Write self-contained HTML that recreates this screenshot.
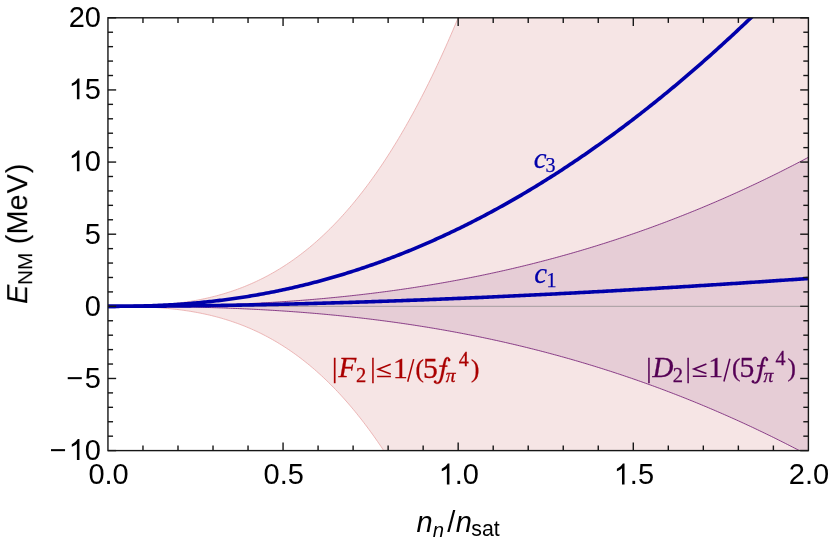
<!DOCTYPE html>
<html><head><meta charset="utf-8"><title>E_NM</title>
<style>html,body{margin:0;padding:0;background:#fff;}body{width:830px;height:544px;overflow:hidden;font-family:"Liberation Sans",sans-serif;}svg{display:block;}#w{will-change:opacity;width:830px;height:544px;}</style></head>
<body>
<div id="w">
<svg width="830" height="544" viewBox="0 0 830 544">
<defs><clipPath id="cp"><rect x="107.95" y="17.80" width="700.45" height="432.80"/></clipPath></defs>
<rect x="0" y="0" width="830" height="544" fill="#ffffff"/>
<g clip-path="url(#cp)">
<path d="M107.95,306.33 L109.70,306.33 L111.45,306.33 L113.20,306.33 L114.95,306.32 L116.71,306.32 L118.46,306.31 L120.21,306.29 L121.96,306.28 L123.71,306.26 L125.46,306.24 L127.21,306.21 L128.96,306.19 L130.71,306.15 L132.47,306.12 L134.22,306.08 L135.97,306.03 L137.72,305.98 L139.47,305.93 L141.22,305.87 L142.97,305.80 L144.72,305.73 L146.47,305.66 L148.23,305.57 L149.98,305.49 L151.73,305.39 L153.48,305.29 L155.23,305.18 L156.98,305.07 L158.73,304.95 L160.48,304.82 L162.23,304.69 L163.99,304.54 L165.74,304.39 L167.49,304.23 L169.24,304.07 L170.99,303.89 L172.74,303.71 L174.49,303.52 L176.24,303.31 L178.00,303.10 L179.75,302.88 L181.50,302.65 L183.25,302.42 L185.00,302.17 L186.75,301.91 L188.50,301.64 L190.25,301.36 L192.00,301.07 L193.76,300.77 L195.51,300.46 L197.26,300.14 L199.01,299.80 L200.76,299.46 L202.51,299.10 L204.26,298.73 L206.01,298.35 L207.76,297.96 L209.52,297.55 L211.27,297.13 L213.02,296.70 L214.77,296.26 L216.52,295.80 L218.27,295.33 L220.02,294.84 L221.77,294.34 L223.52,293.83 L225.28,293.31 L227.03,292.76 L228.78,292.21 L230.53,291.64 L232.28,291.05 L234.03,290.45 L235.78,289.84 L237.53,289.21 L239.28,288.56 L241.04,287.90 L242.79,287.22 L244.54,286.52 L246.29,285.81 L248.04,285.08 L249.79,284.34 L251.54,283.57 L253.29,282.80 L255.04,282.00 L256.80,281.18 L258.55,280.35 L260.30,279.50 L262.05,278.63 L263.80,277.75 L265.55,276.84 L267.30,275.92 L269.05,274.97 L270.80,274.01 L272.56,273.03 L274.31,272.03 L276.06,271.00 L277.81,269.96 L279.56,268.90 L281.31,267.82 L283.06,266.72 L284.81,265.59 L286.56,264.45 L288.32,263.28 L290.07,262.10 L291.82,260.89 L293.57,259.66 L295.32,258.41 L297.07,257.13 L298.82,255.84 L300.57,254.52 L302.32,253.17 L304.08,251.81 L305.83,250.42 L307.58,249.01 L309.33,247.58 L311.08,246.12 L312.83,244.63 L314.58,243.13 L316.33,241.60 L318.08,240.04 L319.84,238.46 L321.59,236.86 L323.34,235.22 L325.09,233.57 L326.84,231.89 L328.59,230.18 L330.34,228.45 L332.09,226.69 L333.85,224.90 L335.60,223.09 L337.35,221.25 L339.10,219.38 L340.85,217.49 L342.60,215.57 L344.35,213.62 L346.10,211.65 L347.85,209.64 L349.61,207.61 L351.36,205.55 L353.11,203.46 L354.86,201.34 L356.61,199.19 L358.36,197.02 L360.11,194.81 L361.86,192.58 L363.61,190.31 L365.37,188.02 L367.12,185.69 L368.87,183.33 L370.62,180.95 L372.37,178.53 L374.12,176.08 L375.87,173.60 L377.62,171.09 L379.37,168.54 L381.13,165.97 L382.88,163.36 L384.63,160.72 L386.38,158.05 L388.13,155.34 L389.88,152.60 L391.63,149.83 L393.38,147.03 L395.13,144.19 L396.89,141.32 L398.64,138.41 L400.39,135.47 L402.14,132.49 L403.89,129.48 L405.64,126.44 L407.39,123.36 L409.14,120.24 L410.89,117.09 L412.65,113.91 L414.40,110.68 L416.15,107.42 L417.90,104.13 L419.65,100.80 L421.40,97.43 L423.15,94.02 L424.90,90.58 L426.65,87.10 L428.41,83.58 L430.16,80.03 L431.91,76.43 L433.66,72.80 L435.41,69.13 L437.16,65.42 L438.91,61.67 L440.66,57.88 L442.41,54.06 L444.17,50.19 L445.92,46.28 L447.67,42.33 L449.42,38.35 L451.17,34.32 L452.92,30.25 L454.67,26.14 L456.42,21.99 L458.17,17.80 L459.93,13.57 L461.68,9.29 L463.43,4.97 L465.18,0.61 L466.93,-3.79 L468.68,-8.23 L470.43,-12.72 L472.18,-17.25 L473.94,-21.82 L475.69,-26.44 L477.44,-31.10 L479.19,-35.81 L480.94,-40.56 L482.69,-45.35 L484.44,-50.19 L486.19,-55.08 L487.94,-60.00 L489.70,-64.98 L491.45,-70.00 L493.20,-75.06 L494.95,-80.18 L496.70,-85.33 L498.45,-90.54 L500.20,-95.79 L501.95,-101.09 L503.70,-106.43 L505.46,-111.83 L507.21,-117.27 L508.96,-122.75 L510.71,-128.29 L512.46,-133.87 L514.21,-139.51 L515.96,-145.19 L517.71,-150.92 L519.46,-156.70 L521.22,-162.53 L522.97,-168.41 L524.72,-174.33 L526.47,-180.31 L528.22,-186.34 L529.97,-192.42 L531.72,-198.55 L533.47,-204.73 L535.22,-210.96 L536.98,-217.25 L538.73,-223.58 L540.48,-229.97 L542.23,-236.41 L543.98,-242.90 L545.73,-249.45 L547.48,-256.04 L549.23,-262.69 L550.98,-269.40 L552.74,-276.16 L554.49,-282.97 L556.24,-289.83 L557.99,-296.75 L559.74,-303.72 L561.49,-310.75 L563.24,-317.84 L564.99,-324.97 L566.74,-332.17 L568.50,-339.42 L570.25,-346.72 L572.00,-354.08 L573.75,-361.50 L575.50,-368.97 L577.25,-376.51 L579.00,-384.09 L580.75,-391.74 L582.50,-399.44 L584.26,-407.20 L586.01,-415.02 L587.76,-422.89 L589.51,-430.83 L591.26,-438.82 L593.01,-446.87 L594.76,-454.99 L596.51,-463.16 L598.26,-471.39 L600.02,-479.68 L601.77,-488.03 L603.52,-496.44 L605.27,-504.91 L607.02,-513.44 L608.77,-522.03 L610.52,-530.69 L612.27,-539.40 L614.03,-548.18 L615.78,-557.02 L617.53,-559.27 L619.28,-559.27 L621.03,-559.27 L622.78,-559.27 L624.53,-559.27 L626.28,-559.27 L628.03,-559.27 L629.79,-559.27 L631.54,-559.27 L633.29,-559.27 L635.04,-559.27 L636.79,-559.27 L638.54,-559.27 L640.29,-559.27 L642.04,-559.27 L643.79,-559.27 L645.55,-559.27 L647.30,-559.27 L649.05,-559.27 L650.80,-559.27 L652.55,-559.27 L654.30,-559.27 L656.05,-559.27 L657.80,-559.27 L659.55,-559.27 L661.31,-559.27 L663.06,-559.27 L664.81,-559.27 L666.56,-559.27 L668.31,-559.27 L670.06,-559.27 L671.81,-559.27 L673.56,-559.27 L675.31,-559.27 L677.07,-559.27 L678.82,-559.27 L680.57,-559.27 L682.32,-559.27 L684.07,-559.27 L685.82,-559.27 L687.57,-559.27 L689.32,-559.27 L691.07,-559.27 L692.83,-559.27 L694.58,-559.27 L696.33,-559.27 L698.08,-559.27 L699.83,-559.27 L701.58,-559.27 L703.33,-559.27 L705.08,-559.27 L706.83,-559.27 L708.59,-559.27 L710.34,-559.27 L712.09,-559.27 L713.84,-559.27 L715.59,-559.27 L717.34,-559.27 L719.09,-559.27 L720.84,-559.27 L722.59,-559.27 L724.35,-559.27 L726.10,-559.27 L727.85,-559.27 L729.60,-559.27 L731.35,-559.27 L733.10,-559.27 L734.85,-559.27 L736.60,-559.27 L738.36,-559.27 L740.11,-559.27 L741.86,-559.27 L743.61,-559.27 L745.36,-559.27 L747.11,-559.27 L748.86,-559.27 L750.61,-559.27 L752.36,-559.27 L754.12,-559.27 L755.87,-559.27 L757.62,-559.27 L759.37,-559.27 L761.12,-559.27 L762.87,-559.27 L764.62,-559.27 L766.37,-559.27 L768.12,-559.27 L769.88,-559.27 L771.63,-559.27 L773.38,-559.27 L775.13,-559.27 L776.88,-559.27 L778.63,-559.27 L780.38,-559.27 L782.13,-559.27 L783.88,-559.27 L785.64,-559.27 L787.39,-559.27 L789.14,-559.27 L790.89,-559.27 L792.64,-559.27 L794.39,-559.27 L796.14,-559.27 L797.89,-559.27 L799.64,-559.27 L801.40,-559.27 L803.15,-559.27 L804.90,-559.27 L806.65,-559.27 L808.40,-559.27 L808.40,1171.93 L806.65,1171.93 L804.90,1171.93 L803.15,1171.93 L801.40,1171.93 L799.64,1171.93 L797.89,1171.93 L796.14,1171.93 L794.39,1171.93 L792.64,1171.93 L790.89,1171.93 L789.14,1171.93 L787.39,1171.93 L785.64,1171.93 L783.88,1171.93 L782.13,1171.93 L780.38,1171.93 L778.63,1171.93 L776.88,1171.93 L775.13,1171.93 L773.38,1171.93 L771.63,1171.93 L769.88,1171.93 L768.12,1171.93 L766.37,1171.93 L764.62,1171.93 L762.87,1171.93 L761.12,1171.93 L759.37,1171.93 L757.62,1171.93 L755.87,1171.93 L754.12,1171.93 L752.36,1171.93 L750.61,1171.93 L748.86,1171.93 L747.11,1171.93 L745.36,1171.93 L743.61,1171.93 L741.86,1171.93 L740.11,1171.93 L738.36,1171.93 L736.60,1171.93 L734.85,1171.93 L733.10,1171.93 L731.35,1171.93 L729.60,1171.93 L727.85,1171.93 L726.10,1171.93 L724.35,1171.93 L722.59,1171.93 L720.84,1171.93 L719.09,1171.93 L717.34,1171.93 L715.59,1171.93 L713.84,1171.93 L712.09,1171.93 L710.34,1171.93 L708.59,1171.93 L706.83,1171.93 L705.08,1171.93 L703.33,1171.93 L701.58,1171.93 L699.83,1171.93 L698.08,1171.93 L696.33,1171.93 L694.58,1171.93 L692.83,1171.93 L691.07,1171.93 L689.32,1171.93 L687.57,1171.93 L685.82,1171.93 L684.07,1171.93 L682.32,1171.93 L680.57,1171.93 L678.82,1171.93 L677.07,1171.93 L675.31,1171.93 L673.56,1171.93 L671.81,1171.93 L670.06,1171.93 L668.31,1171.93 L666.56,1171.93 L664.81,1171.93 L663.06,1171.93 L661.31,1171.93 L659.55,1171.93 L657.80,1171.93 L656.05,1171.93 L654.30,1171.93 L652.55,1171.93 L650.80,1171.93 L649.05,1171.93 L647.30,1171.93 L645.55,1171.93 L643.79,1171.93 L642.04,1171.93 L640.29,1171.93 L638.54,1171.93 L636.79,1171.93 L635.04,1171.93 L633.29,1171.93 L631.54,1171.93 L629.79,1171.93 L628.03,1171.93 L626.28,1171.93 L624.53,1171.93 L622.78,1171.93 L621.03,1171.93 L619.28,1171.93 L617.53,1171.93 L615.78,1169.68 L614.03,1160.85 L612.27,1152.07 L610.52,1143.35 L608.77,1134.70 L607.02,1126.11 L605.27,1117.57 L603.52,1109.10 L601.77,1100.69 L600.02,1092.34 L598.26,1084.05 L596.51,1075.82 L594.76,1067.65 L593.01,1059.54 L591.26,1051.49 L589.51,1043.50 L587.76,1035.56 L586.01,1027.69 L584.26,1019.87 L582.50,1012.11 L580.75,1004.40 L579.00,996.76 L577.25,989.17 L575.50,981.64 L573.75,974.17 L572.00,966.75 L570.25,959.39 L568.50,952.08 L566.74,944.83 L564.99,937.64 L563.24,930.50 L561.49,923.42 L559.74,916.39 L557.99,909.42 L556.24,902.50 L554.49,895.63 L552.74,888.82 L550.98,882.07 L549.23,875.36 L547.48,868.71 L545.73,862.11 L543.98,855.57 L542.23,849.08 L540.48,842.64 L538.73,836.25 L536.98,829.91 L535.22,823.63 L533.47,817.40 L531.72,811.22 L529.97,805.09 L528.22,799.01 L526.47,792.98 L524.72,787.00 L522.97,781.07 L521.22,775.19 L519.46,769.36 L517.71,763.58 L515.96,757.85 L514.21,752.17 L512.46,746.54 L510.71,740.96 L508.96,735.42 L507.21,729.93 L505.46,724.49 L503.70,719.10 L501.95,713.75 L500.20,708.46 L498.45,703.21 L496.70,698.00 L494.95,692.84 L493.20,687.73 L491.45,682.67 L489.70,677.65 L487.94,672.67 L486.19,667.74 L484.44,662.86 L482.69,658.02 L480.94,653.23 L479.19,648.48 L477.44,643.77 L475.69,639.11 L473.94,634.49 L472.18,629.92 L470.43,625.39 L468.68,620.90 L466.93,616.45 L465.18,612.05 L463.43,607.69 L461.68,603.38 L459.93,599.10 L458.17,594.87 L456.42,590.67 L454.67,586.52 L452.92,582.42 L451.17,578.35 L449.42,574.32 L447.67,570.33 L445.92,566.39 L444.17,562.48 L442.41,558.61 L440.66,554.78 L438.91,551.00 L437.16,547.25 L435.41,543.54 L433.66,539.87 L431.91,536.23 L430.16,532.64 L428.41,529.08 L426.65,525.57 L424.90,522.09 L423.15,518.64 L421.40,515.24 L419.65,511.87 L417.90,508.54 L416.15,505.24 L414.40,501.98 L412.65,498.76 L410.89,495.57 L409.14,492.42 L407.39,489.31 L405.64,486.23 L403.89,483.18 L402.14,480.17 L400.39,477.20 L398.64,474.26 L396.89,471.35 L395.13,468.48 L393.38,465.64 L391.63,462.83 L389.88,460.06 L388.13,457.32 L386.38,454.62 L384.63,451.95 L382.88,449.31 L381.13,446.70 L379.37,444.12 L377.62,441.58 L375.87,439.07 L374.12,436.59 L372.37,434.14 L370.62,431.72 L368.87,429.33 L367.12,426.98 L365.37,424.65 L363.61,422.36 L361.86,420.09 L360.11,417.85 L358.36,415.65 L356.61,413.47 L354.86,411.32 L353.11,409.21 L351.36,407.12 L349.61,405.06 L347.85,403.02 L346.10,401.02 L344.35,399.04 L342.60,397.10 L340.85,395.18 L339.10,393.28 L337.35,391.42 L335.60,389.58 L333.85,387.76 L332.09,385.98 L330.34,384.22 L328.59,382.49 L326.84,380.78 L325.09,379.10 L323.34,377.44 L321.59,375.81 L319.84,374.21 L318.08,372.63 L316.33,371.07 L314.58,369.54 L312.83,368.03 L311.08,366.55 L309.33,365.09 L307.58,363.66 L305.83,362.25 L304.08,360.86 L302.32,359.49 L300.57,358.15 L298.82,356.83 L297.07,355.53 L295.32,354.26 L293.57,353.01 L291.82,351.78 L290.07,350.57 L288.32,349.38 L286.56,348.22 L284.81,347.07 L283.06,345.95 L281.31,344.85 L279.56,343.77 L277.81,342.70 L276.06,341.66 L274.31,340.64 L272.56,339.64 L270.80,338.66 L269.05,337.69 L267.30,336.75 L265.55,335.83 L263.80,334.92 L262.05,334.03 L260.30,333.17 L258.55,332.32 L256.80,331.48 L255.04,330.67 L253.29,329.87 L251.54,329.09 L249.79,328.33 L248.04,327.58 L246.29,326.86 L244.54,326.14 L242.79,325.45 L241.04,324.77 L239.28,324.11 L237.53,323.46 L235.78,322.83 L234.03,322.21 L232.28,321.61 L230.53,321.03 L228.78,320.46 L227.03,319.90 L225.28,319.36 L223.52,318.83 L221.77,318.32 L220.02,317.82 L218.27,317.34 L216.52,316.87 L214.77,316.41 L213.02,315.97 L211.27,315.53 L209.52,315.12 L207.76,314.71 L206.01,314.32 L204.26,313.94 L202.51,313.57 L200.76,313.21 L199.01,312.86 L197.26,312.53 L195.51,312.21 L193.76,311.90 L192.00,311.60 L190.25,311.31 L188.50,311.03 L186.75,310.76 L185.00,310.50 L183.25,310.25 L181.50,310.01 L179.75,309.78 L178.00,309.56 L176.24,309.35 L174.49,309.15 L172.74,308.96 L170.99,308.78 L169.24,308.60 L167.49,308.43 L165.74,308.27 L163.99,308.12 L162.23,307.98 L160.48,307.84 L158.73,307.72 L156.98,307.60 L155.23,307.48 L153.48,307.37 L151.73,307.27 L149.98,307.18 L148.23,307.09 L146.47,307.01 L144.72,306.93 L142.97,306.86 L141.22,306.80 L139.47,306.74 L137.72,306.68 L135.97,306.63 L134.22,306.59 L132.47,306.55 L130.71,306.51 L128.96,306.48 L127.21,306.45 L125.46,306.43 L123.71,306.41 L121.96,306.39 L120.21,306.37 L118.46,306.36 L116.71,306.35 L114.95,306.34 L113.20,306.34 L111.45,306.34 L109.70,306.33 L107.95,306.33 Z" fill="#aa0000" fill-opacity="0.1" stroke="none"/>
<path d="M107.95,306.33 L109.70,306.33 L111.45,306.33 L113.20,306.33 L114.95,306.32 L116.71,306.32 L118.46,306.31 L120.21,306.29 L121.96,306.28 L123.71,306.26 L125.46,306.24 L127.21,306.21 L128.96,306.19 L130.71,306.15 L132.47,306.12 L134.22,306.08 L135.97,306.03 L137.72,305.98 L139.47,305.93 L141.22,305.87 L142.97,305.80 L144.72,305.73 L146.47,305.66 L148.23,305.57 L149.98,305.49 L151.73,305.39 L153.48,305.29 L155.23,305.18 L156.98,305.07 L158.73,304.95 L160.48,304.82 L162.23,304.69 L163.99,304.54 L165.74,304.39 L167.49,304.23 L169.24,304.07 L170.99,303.89 L172.74,303.71 L174.49,303.52 L176.24,303.31 L178.00,303.10 L179.75,302.88 L181.50,302.65 L183.25,302.42 L185.00,302.17 L186.75,301.91 L188.50,301.64 L190.25,301.36 L192.00,301.07 L193.76,300.77 L195.51,300.46 L197.26,300.14 L199.01,299.80 L200.76,299.46 L202.51,299.10 L204.26,298.73 L206.01,298.35 L207.76,297.96 L209.52,297.55 L211.27,297.13 L213.02,296.70 L214.77,296.26 L216.52,295.80 L218.27,295.33 L220.02,294.84 L221.77,294.34 L223.52,293.83 L225.28,293.31 L227.03,292.76 L228.78,292.21 L230.53,291.64 L232.28,291.05 L234.03,290.45 L235.78,289.84 L237.53,289.21 L239.28,288.56 L241.04,287.90 L242.79,287.22 L244.54,286.52 L246.29,285.81 L248.04,285.08 L249.79,284.34 L251.54,283.57 L253.29,282.80 L255.04,282.00 L256.80,281.18 L258.55,280.35 L260.30,279.50 L262.05,278.63 L263.80,277.75 L265.55,276.84 L267.30,275.92 L269.05,274.97 L270.80,274.01 L272.56,273.03 L274.31,272.03 L276.06,271.00 L277.81,269.96 L279.56,268.90 L281.31,267.82 L283.06,266.72 L284.81,265.59 L286.56,264.45 L288.32,263.28 L290.07,262.10 L291.82,260.89 L293.57,259.66 L295.32,258.41 L297.07,257.13 L298.82,255.84 L300.57,254.52 L302.32,253.17 L304.08,251.81 L305.83,250.42 L307.58,249.01 L309.33,247.58 L311.08,246.12 L312.83,244.63 L314.58,243.13 L316.33,241.60 L318.08,240.04 L319.84,238.46 L321.59,236.86 L323.34,235.22 L325.09,233.57 L326.84,231.89 L328.59,230.18 L330.34,228.45 L332.09,226.69 L333.85,224.90 L335.60,223.09 L337.35,221.25 L339.10,219.38 L340.85,217.49 L342.60,215.57 L344.35,213.62 L346.10,211.65 L347.85,209.64 L349.61,207.61 L351.36,205.55 L353.11,203.46 L354.86,201.34 L356.61,199.19 L358.36,197.02 L360.11,194.81 L361.86,192.58 L363.61,190.31 L365.37,188.02 L367.12,185.69 L368.87,183.33 L370.62,180.95 L372.37,178.53 L374.12,176.08 L375.87,173.60 L377.62,171.09 L379.37,168.54 L381.13,165.97 L382.88,163.36 L384.63,160.72 L386.38,158.05 L388.13,155.34 L389.88,152.60 L391.63,149.83 L393.38,147.03 L395.13,144.19 L396.89,141.32 L398.64,138.41 L400.39,135.47 L402.14,132.49 L403.89,129.48 L405.64,126.44 L407.39,123.36 L409.14,120.24 L410.89,117.09 L412.65,113.91 L414.40,110.68 L416.15,107.42 L417.90,104.13 L419.65,100.80 L421.40,97.43 L423.15,94.02 L424.90,90.58 L426.65,87.10 L428.41,83.58 L430.16,80.03 L431.91,76.43 L433.66,72.80 L435.41,69.13 L437.16,65.42 L438.91,61.67 L440.66,57.88 L442.41,54.06 L444.17,50.19 L445.92,46.28 L447.67,42.33 L449.42,38.35 L451.17,34.32 L452.92,30.25 L454.67,26.14 L456.42,21.99 L458.17,17.80 L459.93,13.57 L461.68,9.29 L463.43,4.97 L465.18,0.61 L466.93,-3.79 L468.68,-8.23 L470.43,-12.72 L472.18,-17.25 L473.94,-21.82 L475.69,-26.44 L477.44,-31.10 L479.19,-35.81 L480.94,-40.56 L482.69,-45.35 L484.44,-50.19 L486.19,-55.08 L487.94,-60.00 L489.70,-64.98 L491.45,-70.00 L493.20,-75.06 L494.95,-80.18 L496.70,-85.33 L498.45,-90.54 L500.20,-95.79 L501.95,-101.09 L503.70,-106.43 L505.46,-111.83 L507.21,-117.27 L508.96,-122.75 L510.71,-128.29 L512.46,-133.87 L514.21,-139.51 L515.96,-145.19 L517.71,-150.92 L519.46,-156.70 L521.22,-162.53 L522.97,-168.41 L524.72,-174.33 L526.47,-180.31 L528.22,-186.34 L529.97,-192.42 L531.72,-198.55 L533.47,-204.73 L535.22,-210.96 L536.98,-217.25 L538.73,-223.58 L540.48,-229.97 L542.23,-236.41 L543.98,-242.90 L545.73,-249.45 L547.48,-256.04 L549.23,-262.69 L550.98,-269.40 L552.74,-276.16 L554.49,-282.97 L556.24,-289.83 L557.99,-296.75 L559.74,-303.72 L561.49,-310.75 L563.24,-317.84 L564.99,-324.97 L566.74,-332.17 L568.50,-339.42 L570.25,-346.72 L572.00,-354.08 L573.75,-361.50 L575.50,-368.97 L577.25,-376.51 L579.00,-384.09 L580.75,-391.74 L582.50,-399.44 L584.26,-407.20 L586.01,-415.02 L587.76,-422.89 L589.51,-430.83 L591.26,-438.82 L593.01,-446.87 L594.76,-454.99 L596.51,-463.16 L598.26,-471.39 L600.02,-479.68 L601.77,-488.03 L603.52,-496.44 L605.27,-504.91 L607.02,-513.44 L608.77,-522.03 L610.52,-530.69 L612.27,-539.40 L614.03,-548.18 L615.78,-557.02 L617.53,-559.27 L619.28,-559.27 L621.03,-559.27 L622.78,-559.27 L624.53,-559.27 L626.28,-559.27 L628.03,-559.27 L629.79,-559.27 L631.54,-559.27 L633.29,-559.27 L635.04,-559.27 L636.79,-559.27 L638.54,-559.27 L640.29,-559.27 L642.04,-559.27 L643.79,-559.27 L645.55,-559.27 L647.30,-559.27 L649.05,-559.27 L650.80,-559.27 L652.55,-559.27 L654.30,-559.27 L656.05,-559.27 L657.80,-559.27 L659.55,-559.27 L661.31,-559.27 L663.06,-559.27 L664.81,-559.27 L666.56,-559.27 L668.31,-559.27 L670.06,-559.27 L671.81,-559.27 L673.56,-559.27 L675.31,-559.27 L677.07,-559.27 L678.82,-559.27 L680.57,-559.27 L682.32,-559.27 L684.07,-559.27 L685.82,-559.27 L687.57,-559.27 L689.32,-559.27 L691.07,-559.27 L692.83,-559.27 L694.58,-559.27 L696.33,-559.27 L698.08,-559.27 L699.83,-559.27 L701.58,-559.27 L703.33,-559.27 L705.08,-559.27 L706.83,-559.27 L708.59,-559.27 L710.34,-559.27 L712.09,-559.27 L713.84,-559.27 L715.59,-559.27 L717.34,-559.27 L719.09,-559.27 L720.84,-559.27 L722.59,-559.27 L724.35,-559.27 L726.10,-559.27 L727.85,-559.27 L729.60,-559.27 L731.35,-559.27 L733.10,-559.27 L734.85,-559.27 L736.60,-559.27 L738.36,-559.27 L740.11,-559.27 L741.86,-559.27 L743.61,-559.27 L745.36,-559.27 L747.11,-559.27 L748.86,-559.27 L750.61,-559.27 L752.36,-559.27 L754.12,-559.27 L755.87,-559.27 L757.62,-559.27 L759.37,-559.27 L761.12,-559.27 L762.87,-559.27 L764.62,-559.27 L766.37,-559.27 L768.12,-559.27 L769.88,-559.27 L771.63,-559.27 L773.38,-559.27 L775.13,-559.27 L776.88,-559.27 L778.63,-559.27 L780.38,-559.27 L782.13,-559.27 L783.88,-559.27 L785.64,-559.27 L787.39,-559.27 L789.14,-559.27 L790.89,-559.27 L792.64,-559.27 L794.39,-559.27 L796.14,-559.27 L797.89,-559.27 L799.64,-559.27 L801.40,-559.27 L803.15,-559.27 L804.90,-559.27 L806.65,-559.27 L808.40,-559.27" fill="none" stroke="#e9a6a6" stroke-width="0.8"/>
<path d="M107.95,306.33 L109.70,306.33 L111.45,306.34 L113.20,306.34 L114.95,306.34 L116.71,306.35 L118.46,306.36 L120.21,306.37 L121.96,306.39 L123.71,306.41 L125.46,306.43 L127.21,306.45 L128.96,306.48 L130.71,306.51 L132.47,306.55 L134.22,306.59 L135.97,306.63 L137.72,306.68 L139.47,306.74 L141.22,306.80 L142.97,306.86 L144.72,306.93 L146.47,307.01 L148.23,307.09 L149.98,307.18 L151.73,307.27 L153.48,307.37 L155.23,307.48 L156.98,307.60 L158.73,307.72 L160.48,307.84 L162.23,307.98 L163.99,308.12 L165.74,308.27 L167.49,308.43 L169.24,308.60 L170.99,308.78 L172.74,308.96 L174.49,309.15 L176.24,309.35 L178.00,309.56 L179.75,309.78 L181.50,310.01 L183.25,310.25 L185.00,310.50 L186.75,310.76 L188.50,311.03 L190.25,311.31 L192.00,311.60 L193.76,311.90 L195.51,312.21 L197.26,312.53 L199.01,312.86 L200.76,313.21 L202.51,313.57 L204.26,313.94 L206.01,314.32 L207.76,314.71 L209.52,315.12 L211.27,315.53 L213.02,315.97 L214.77,316.41 L216.52,316.87 L218.27,317.34 L220.02,317.82 L221.77,318.32 L223.52,318.83 L225.28,319.36 L227.03,319.90 L228.78,320.46 L230.53,321.03 L232.28,321.61 L234.03,322.21 L235.78,322.83 L237.53,323.46 L239.28,324.11 L241.04,324.77 L242.79,325.45 L244.54,326.14 L246.29,326.86 L248.04,327.58 L249.79,328.33 L251.54,329.09 L253.29,329.87 L255.04,330.67 L256.80,331.48 L258.55,332.32 L260.30,333.17 L262.05,334.03 L263.80,334.92 L265.55,335.83 L267.30,336.75 L269.05,337.69 L270.80,338.66 L272.56,339.64 L274.31,340.64 L276.06,341.66 L277.81,342.70 L279.56,343.77 L281.31,344.85 L283.06,345.95 L284.81,347.07 L286.56,348.22 L288.32,349.38 L290.07,350.57 L291.82,351.78 L293.57,353.01 L295.32,354.26 L297.07,355.53 L298.82,356.83 L300.57,358.15 L302.32,359.49 L304.08,360.86 L305.83,362.25 L307.58,363.66 L309.33,365.09 L311.08,366.55 L312.83,368.03 L314.58,369.54 L316.33,371.07 L318.08,372.63 L319.84,374.21 L321.59,375.81 L323.34,377.44 L325.09,379.10 L326.84,380.78 L328.59,382.49 L330.34,384.22 L332.09,385.98 L333.85,387.76 L335.60,389.58 L337.35,391.42 L339.10,393.28 L340.85,395.18 L342.60,397.10 L344.35,399.04 L346.10,401.02 L347.85,403.02 L349.61,405.06 L351.36,407.12 L353.11,409.21 L354.86,411.32 L356.61,413.47 L358.36,415.65 L360.11,417.85 L361.86,420.09 L363.61,422.36 L365.37,424.65 L367.12,426.98 L368.87,429.33 L370.62,431.72 L372.37,434.14 L374.12,436.59 L375.87,439.07 L377.62,441.58 L379.37,444.12 L381.13,446.70 L382.88,449.31 L384.63,451.95 L386.38,454.62 L388.13,457.32 L389.88,460.06 L391.63,462.83 L393.38,465.64 L395.13,468.48 L396.89,471.35 L398.64,474.26 L400.39,477.20 L402.14,480.17 L403.89,483.18 L405.64,486.23 L407.39,489.31 L409.14,492.42 L410.89,495.57 L412.65,498.76 L414.40,501.98 L416.15,505.24 L417.90,508.54 L419.65,511.87 L421.40,515.24 L423.15,518.64 L424.90,522.09 L426.65,525.57 L428.41,529.08 L430.16,532.64 L431.91,536.23 L433.66,539.87 L435.41,543.54 L437.16,547.25 L438.91,551.00 L440.66,554.78 L442.41,558.61 L444.17,562.48 L445.92,566.39 L447.67,570.33 L449.42,574.32 L451.17,578.35 L452.92,582.42 L454.67,586.52 L456.42,590.67 L458.17,594.87 L459.93,599.10 L461.68,603.38 L463.43,607.69 L465.18,612.05 L466.93,616.45 L468.68,620.90 L470.43,625.39 L472.18,629.92 L473.94,634.49 L475.69,639.11 L477.44,643.77 L479.19,648.48 L480.94,653.23 L482.69,658.02 L484.44,662.86 L486.19,667.74 L487.94,672.67 L489.70,677.65 L491.45,682.67 L493.20,687.73 L494.95,692.84 L496.70,698.00 L498.45,703.21 L500.20,708.46 L501.95,713.75 L503.70,719.10 L505.46,724.49 L507.21,729.93 L508.96,735.42 L510.71,740.96 L512.46,746.54 L514.21,752.17 L515.96,757.85 L517.71,763.58 L519.46,769.36 L521.22,775.19 L522.97,781.07 L524.72,787.00 L526.47,792.98 L528.22,799.01 L529.97,805.09 L531.72,811.22 L533.47,817.40 L535.22,823.63 L536.98,829.91 L538.73,836.25 L540.48,842.64 L542.23,849.08 L543.98,855.57 L545.73,862.11 L547.48,868.71 L549.23,875.36 L550.98,882.07 L552.74,888.82 L554.49,895.63 L556.24,902.50 L557.99,909.42 L559.74,916.39 L561.49,923.42 L563.24,930.50 L564.99,937.64 L566.74,944.83 L568.50,952.08 L570.25,959.39 L572.00,966.75 L573.75,974.17 L575.50,981.64 L577.25,989.17 L579.00,996.76 L580.75,1004.40 L582.50,1012.11 L584.26,1019.87 L586.01,1027.69 L587.76,1035.56 L589.51,1043.50 L591.26,1051.49 L593.01,1059.54 L594.76,1067.65 L596.51,1075.82 L598.26,1084.05 L600.02,1092.34 L601.77,1100.69 L603.52,1109.10 L605.27,1117.57 L607.02,1126.11 L608.77,1134.70 L610.52,1143.35 L612.27,1152.07 L614.03,1160.85 L615.78,1169.68 L617.53,1171.93 L619.28,1171.93 L621.03,1171.93 L622.78,1171.93 L624.53,1171.93 L626.28,1171.93 L628.03,1171.93 L629.79,1171.93 L631.54,1171.93 L633.29,1171.93 L635.04,1171.93 L636.79,1171.93 L638.54,1171.93 L640.29,1171.93 L642.04,1171.93 L643.79,1171.93 L645.55,1171.93 L647.30,1171.93 L649.05,1171.93 L650.80,1171.93 L652.55,1171.93 L654.30,1171.93 L656.05,1171.93 L657.80,1171.93 L659.55,1171.93 L661.31,1171.93 L663.06,1171.93 L664.81,1171.93 L666.56,1171.93 L668.31,1171.93 L670.06,1171.93 L671.81,1171.93 L673.56,1171.93 L675.31,1171.93 L677.07,1171.93 L678.82,1171.93 L680.57,1171.93 L682.32,1171.93 L684.07,1171.93 L685.82,1171.93 L687.57,1171.93 L689.32,1171.93 L691.07,1171.93 L692.83,1171.93 L694.58,1171.93 L696.33,1171.93 L698.08,1171.93 L699.83,1171.93 L701.58,1171.93 L703.33,1171.93 L705.08,1171.93 L706.83,1171.93 L708.59,1171.93 L710.34,1171.93 L712.09,1171.93 L713.84,1171.93 L715.59,1171.93 L717.34,1171.93 L719.09,1171.93 L720.84,1171.93 L722.59,1171.93 L724.35,1171.93 L726.10,1171.93 L727.85,1171.93 L729.60,1171.93 L731.35,1171.93 L733.10,1171.93 L734.85,1171.93 L736.60,1171.93 L738.36,1171.93 L740.11,1171.93 L741.86,1171.93 L743.61,1171.93 L745.36,1171.93 L747.11,1171.93 L748.86,1171.93 L750.61,1171.93 L752.36,1171.93 L754.12,1171.93 L755.87,1171.93 L757.62,1171.93 L759.37,1171.93 L761.12,1171.93 L762.87,1171.93 L764.62,1171.93 L766.37,1171.93 L768.12,1171.93 L769.88,1171.93 L771.63,1171.93 L773.38,1171.93 L775.13,1171.93 L776.88,1171.93 L778.63,1171.93 L780.38,1171.93 L782.13,1171.93 L783.88,1171.93 L785.64,1171.93 L787.39,1171.93 L789.14,1171.93 L790.89,1171.93 L792.64,1171.93 L794.39,1171.93 L796.14,1171.93 L797.89,1171.93 L799.64,1171.93 L801.40,1171.93 L803.15,1171.93 L804.90,1171.93 L806.65,1171.93 L808.40,1171.93" fill="none" stroke="#e9a6a6" stroke-width="0.8"/>
<path d="M107.95,306.33 L109.70,306.33 L111.45,306.33 L113.20,306.33 L114.95,306.33 L116.71,306.33 L118.46,306.33 L120.21,306.33 L121.96,306.32 L123.71,306.32 L125.46,306.32 L127.21,306.31 L128.96,306.31 L130.71,306.30 L132.47,306.30 L134.22,306.29 L135.97,306.29 L137.72,306.28 L139.47,306.27 L141.22,306.26 L142.97,306.25 L144.72,306.24 L146.47,306.23 L148.23,306.22 L149.98,306.20 L151.73,306.19 L153.48,306.17 L155.23,306.16 L156.98,306.14 L158.73,306.12 L160.48,306.10 L162.23,306.08 L163.99,306.06 L165.74,306.04 L167.49,306.02 L169.24,306.00 L170.99,305.97 L172.74,305.95 L174.49,305.92 L176.24,305.89 L178.00,305.86 L179.75,305.83 L181.50,305.80 L183.25,305.77 L185.00,305.74 L186.75,305.70 L188.50,305.67 L190.25,305.63 L192.00,305.59 L193.76,305.55 L195.51,305.51 L197.26,305.47 L199.01,305.43 L200.76,305.38 L202.51,305.34 L204.26,305.29 L206.01,305.24 L207.76,305.19 L209.52,305.14 L211.27,305.09 L213.02,305.03 L214.77,304.98 L216.52,304.92 L218.27,304.87 L220.02,304.81 L221.77,304.75 L223.52,304.69 L225.28,304.62 L227.03,304.56 L228.78,304.49 L230.53,304.42 L232.28,304.36 L234.03,304.28 L235.78,304.21 L237.53,304.14 L239.28,304.06 L241.04,303.99 L242.79,303.91 L244.54,303.83 L246.29,303.75 L248.04,303.67 L249.79,303.58 L251.54,303.50 L253.29,303.41 L255.04,303.32 L256.80,303.23 L258.55,303.14 L260.30,303.05 L262.05,302.95 L263.80,302.85 L265.55,302.75 L267.30,302.65 L269.05,302.55 L270.80,302.45 L272.56,302.34 L274.31,302.24 L276.06,302.13 L277.81,302.02 L279.56,301.91 L281.31,301.79 L283.06,301.68 L284.81,301.56 L286.56,301.44 L288.32,301.32 L290.07,301.20 L291.82,301.07 L293.57,300.95 L295.32,300.82 L297.07,300.69 L298.82,300.56 L300.57,300.42 L302.32,300.29 L304.08,300.15 L305.83,300.01 L307.58,299.87 L309.33,299.73 L311.08,299.58 L312.83,299.44 L314.58,299.29 L316.33,299.14 L318.08,298.99 L319.84,298.83 L321.59,298.68 L323.34,298.52 L325.09,298.36 L326.84,298.20 L328.59,298.03 L330.34,297.87 L332.09,297.70 L333.85,297.53 L335.60,297.36 L337.35,297.19 L339.10,297.01 L340.85,296.83 L342.60,296.65 L344.35,296.47 L346.10,296.29 L347.85,296.10 L349.61,295.92 L351.36,295.73 L353.11,295.53 L354.86,295.34 L356.61,295.14 L358.36,294.95 L360.11,294.75 L361.86,294.54 L363.61,294.34 L365.37,294.13 L367.12,293.92 L368.87,293.71 L370.62,293.50 L372.37,293.29 L374.12,293.07 L375.87,292.85 L377.62,292.63 L379.37,292.40 L381.13,292.18 L382.88,291.95 L384.63,291.72 L386.38,291.49 L388.13,291.25 L389.88,291.02 L391.63,290.78 L393.38,290.54 L395.13,290.29 L396.89,290.05 L398.64,289.80 L400.39,289.55 L402.14,289.30 L403.89,289.04 L405.64,288.79 L407.39,288.53 L409.14,288.27 L410.89,288.00 L412.65,287.74 L414.40,287.47 L416.15,287.20 L417.90,286.92 L419.65,286.65 L421.40,286.37 L423.15,286.09 L424.90,285.81 L426.65,285.52 L428.41,285.24 L430.16,284.95 L431.91,284.66 L433.66,284.36 L435.41,284.06 L437.16,283.77 L438.91,283.46 L440.66,283.16 L442.41,282.85 L444.17,282.55 L445.92,282.24 L447.67,281.92 L449.42,281.61 L451.17,281.29 L452.92,280.97 L454.67,280.64 L456.42,280.32 L458.17,279.99 L459.93,279.66 L461.68,279.33 L463.43,278.99 L465.18,278.65 L466.93,278.31 L468.68,277.97 L470.43,277.62 L472.18,277.28 L473.94,276.93 L475.69,276.57 L477.44,276.22 L479.19,275.86 L480.94,275.50 L482.69,275.14 L484.44,274.77 L486.19,274.40 L487.94,274.03 L489.70,273.66 L491.45,273.28 L493.20,272.90 L494.95,272.52 L496.70,272.14 L498.45,271.75 L500.20,271.36 L501.95,270.97 L503.70,270.58 L505.46,270.18 L507.21,269.78 L508.96,269.38 L510.71,268.97 L512.46,268.57 L514.21,268.16 L515.96,267.74 L517.71,267.33 L519.46,266.91 L521.22,266.49 L522.97,266.07 L524.72,265.64 L526.47,265.21 L528.22,264.78 L529.97,264.34 L531.72,263.91 L533.47,263.47 L535.22,263.03 L536.98,262.58 L538.73,262.13 L540.48,261.68 L542.23,261.23 L543.98,260.77 L545.73,260.31 L547.48,259.85 L549.23,259.39 L550.98,258.92 L552.74,258.45 L554.49,257.98 L556.24,257.50 L557.99,257.02 L559.74,256.54 L561.49,256.06 L563.24,255.57 L564.99,255.08 L566.74,254.59 L568.50,254.10 L570.25,253.60 L572.00,253.10 L573.75,252.59 L575.50,252.09 L577.25,251.58 L579.00,251.07 L580.75,250.55 L582.50,250.03 L584.26,249.51 L586.01,248.99 L587.76,248.46 L589.51,247.93 L591.26,247.40 L593.01,246.86 L594.76,246.33 L596.51,245.78 L598.26,245.24 L600.02,244.69 L601.77,244.14 L603.52,243.59 L605.27,243.04 L607.02,242.48 L608.77,241.92 L610.52,241.35 L612.27,240.78 L614.03,240.21 L615.78,239.64 L617.53,239.06 L619.28,238.48 L621.03,237.90 L622.78,237.32 L624.53,236.73 L626.28,236.14 L628.03,235.54 L629.79,234.94 L631.54,234.34 L633.29,233.74 L635.04,233.13 L636.79,232.52 L638.54,231.91 L640.29,231.30 L642.04,230.68 L643.79,230.06 L645.55,229.43 L647.30,228.80 L649.05,228.17 L650.80,227.54 L652.55,226.90 L654.30,226.26 L656.05,225.62 L657.80,224.97 L659.55,224.32 L661.31,223.67 L663.06,223.02 L664.81,222.36 L666.56,221.69 L668.31,221.03 L670.06,220.36 L671.81,219.69 L673.56,219.02 L675.31,218.34 L677.07,217.66 L678.82,216.97 L680.57,216.29 L682.32,215.60 L684.07,214.90 L685.82,214.21 L687.57,213.51 L689.32,212.81 L691.07,212.10 L692.83,211.39 L694.58,210.68 L696.33,209.96 L698.08,209.25 L699.83,208.52 L701.58,207.80 L703.33,207.07 L705.08,206.34 L706.83,205.60 L708.59,204.87 L710.34,204.12 L712.09,203.38 L713.84,202.63 L715.59,201.88 L717.34,201.13 L719.09,200.37 L720.84,199.61 L722.59,198.85 L724.35,198.08 L726.10,197.31 L727.85,196.53 L729.60,195.76 L731.35,194.98 L733.10,194.19 L734.85,193.41 L736.60,192.62 L738.36,191.82 L740.11,191.03 L741.86,190.23 L743.61,189.42 L745.36,188.61 L747.11,187.80 L748.86,186.99 L750.61,186.17 L752.36,185.35 L754.12,184.53 L755.87,183.70 L757.62,182.87 L759.37,182.04 L761.12,181.20 L762.87,180.36 L764.62,179.52 L766.37,178.67 L768.12,177.82 L769.88,176.97 L771.63,176.11 L773.38,175.25 L775.13,174.38 L776.88,173.52 L778.63,172.65 L780.38,171.77 L782.13,170.89 L783.88,170.01 L785.64,169.13 L787.39,168.24 L789.14,167.35 L790.89,166.45 L792.64,165.56 L794.39,164.65 L796.14,163.75 L797.89,162.84 L799.64,161.93 L801.40,161.01 L803.15,160.09 L804.90,159.17 L806.65,158.24 L808.40,157.31 L808.40,455.35 L806.65,454.42 L804.90,453.50 L803.15,452.57 L801.40,451.65 L799.64,450.74 L797.89,449.83 L796.14,448.92 L794.39,448.01 L792.64,447.11 L790.89,446.21 L789.14,445.32 L787.39,444.43 L785.64,443.54 L783.88,442.65 L782.13,441.77 L780.38,440.89 L778.63,440.02 L776.88,439.15 L775.13,438.28 L773.38,437.42 L771.63,436.56 L769.88,435.70 L768.12,434.85 L766.37,434.00 L764.62,433.15 L762.87,432.30 L761.12,431.46 L759.37,430.63 L757.62,429.79 L755.87,428.96 L754.12,428.14 L752.36,427.31 L750.61,426.49 L748.86,425.68 L747.11,424.86 L745.36,424.05 L743.61,423.25 L741.86,422.44 L740.11,421.64 L738.36,420.84 L736.60,420.05 L734.85,419.26 L733.10,418.47 L731.35,417.69 L729.60,416.91 L727.85,416.13 L726.10,415.36 L724.35,414.59 L722.59,413.82 L720.84,413.06 L719.09,412.30 L717.34,411.54 L715.59,410.79 L713.84,410.03 L712.09,409.29 L710.34,408.54 L708.59,407.80 L706.83,407.06 L705.08,406.33 L703.33,405.60 L701.58,404.87 L699.83,404.14 L698.08,403.42 L696.33,402.70 L694.58,401.99 L692.83,401.28 L691.07,400.57 L689.32,399.86 L687.57,399.16 L685.82,398.46 L684.07,397.76 L682.32,397.07 L680.57,396.38 L678.82,395.69 L677.07,395.01 L675.31,394.33 L673.56,393.65 L671.81,392.98 L670.06,392.30 L668.31,391.64 L666.56,390.97 L664.81,390.31 L663.06,389.65 L661.31,389.00 L659.55,388.34 L657.80,387.69 L656.05,387.05 L654.30,386.40 L652.55,385.76 L650.80,385.13 L649.05,384.49 L647.30,383.86 L645.55,383.24 L643.79,382.61 L642.04,381.99 L640.29,381.37 L638.54,380.75 L636.79,380.14 L635.04,379.53 L633.29,378.93 L631.54,378.32 L629.79,377.72 L628.03,377.13 L626.28,376.53 L624.53,375.94 L622.78,375.35 L621.03,374.77 L619.28,374.18 L617.53,373.60 L615.78,373.03 L614.03,372.45 L612.27,371.88 L610.52,371.32 L608.77,370.75 L607.02,370.19 L605.27,369.63 L603.52,369.08 L601.77,368.52 L600.02,367.97 L598.26,367.43 L596.51,366.88 L594.76,366.34 L593.01,365.80 L591.26,365.27 L589.51,364.73 L587.76,364.21 L586.01,363.68 L584.26,363.16 L582.50,362.63 L580.75,362.12 L579.00,361.60 L577.25,361.09 L575.50,360.58 L573.75,360.07 L572.00,359.57 L570.25,359.07 L568.50,358.57 L566.74,358.08 L564.99,357.58 L563.24,357.09 L561.49,356.61 L559.74,356.12 L557.99,355.64 L556.24,355.16 L554.49,354.69 L552.74,354.22 L550.98,353.75 L549.23,353.28 L547.48,352.81 L545.73,352.35 L543.98,351.89 L542.23,351.44 L540.48,350.98 L538.73,350.53 L536.98,350.09 L535.22,349.64 L533.47,349.20 L531.72,348.76 L529.97,348.32 L528.22,347.89 L526.47,347.46 L524.72,347.03 L522.97,346.60 L521.22,346.18 L519.46,345.76 L517.71,345.34 L515.96,344.92 L514.21,344.51 L512.46,344.10 L510.71,343.69 L508.96,343.29 L507.21,342.89 L505.46,342.49 L503.70,342.09 L501.95,341.70 L500.20,341.30 L498.45,340.92 L496.70,340.53 L494.95,340.15 L493.20,339.76 L491.45,339.39 L489.70,339.01 L487.94,338.64 L486.19,338.27 L484.44,337.90 L482.69,337.53 L480.94,337.17 L479.19,336.81 L477.44,336.45 L475.69,336.09 L473.94,335.74 L472.18,335.39 L470.43,335.04 L468.68,334.70 L466.93,334.35 L465.18,334.01 L463.43,333.68 L461.68,333.34 L459.93,333.01 L458.17,332.68 L456.42,332.35 L454.67,332.02 L452.92,331.70 L451.17,331.38 L449.42,331.06 L447.67,330.74 L445.92,330.43 L444.17,330.12 L442.41,329.81 L440.66,329.51 L438.91,329.20 L437.16,328.90 L435.41,328.60 L433.66,328.31 L431.91,328.01 L430.16,327.72 L428.41,327.43 L426.65,327.14 L424.90,326.86 L423.15,326.58 L421.40,326.30 L419.65,326.02 L417.90,325.74 L416.15,325.47 L414.40,325.20 L412.65,324.93 L410.89,324.67 L409.14,324.40 L407.39,324.14 L405.64,323.88 L403.89,323.62 L402.14,323.37 L400.39,323.12 L398.64,322.87 L396.89,322.62 L395.13,322.37 L393.38,322.13 L391.63,321.89 L389.88,321.65 L388.13,321.41 L386.38,321.18 L384.63,320.95 L382.88,320.72 L381.13,320.49 L379.37,320.26 L377.62,320.04 L375.87,319.82 L374.12,319.60 L372.37,319.38 L370.62,319.17 L368.87,318.95 L367.12,318.74 L365.37,318.53 L363.61,318.33 L361.86,318.12 L360.11,317.92 L358.36,317.72 L356.61,317.52 L354.86,317.33 L353.11,317.13 L351.36,316.94 L349.61,316.75 L347.85,316.56 L346.10,316.38 L344.35,316.19 L342.60,316.01 L340.85,315.83 L339.10,315.66 L337.35,315.48 L335.60,315.31 L333.85,315.14 L332.09,314.97 L330.34,314.80 L328.59,314.63 L326.84,314.47 L325.09,314.31 L323.34,314.15 L321.59,313.99 L319.84,313.83 L318.08,313.68 L316.33,313.53 L314.58,313.38 L312.83,313.23 L311.08,313.08 L309.33,312.94 L307.58,312.80 L305.83,312.65 L304.08,312.52 L302.32,312.38 L300.57,312.24 L298.82,312.11 L297.07,311.98 L295.32,311.85 L293.57,311.72 L291.82,311.59 L290.07,311.47 L288.32,311.35 L286.56,311.23 L284.81,311.11 L283.06,310.99 L281.31,310.87 L279.56,310.76 L277.81,310.65 L276.06,310.54 L274.31,310.43 L272.56,310.32 L270.80,310.22 L269.05,310.11 L267.30,310.01 L265.55,309.91 L263.80,309.81 L262.05,309.72 L260.30,309.62 L258.55,309.53 L256.80,309.44 L255.04,309.34 L253.29,309.26 L251.54,309.17 L249.79,309.08 L248.04,309.00 L246.29,308.92 L244.54,308.84 L242.79,308.76 L241.04,308.68 L239.28,308.60 L237.53,308.53 L235.78,308.45 L234.03,308.38 L232.28,308.31 L230.53,308.24 L228.78,308.18 L227.03,308.11 L225.28,308.04 L223.52,307.98 L221.77,307.92 L220.02,307.86 L218.27,307.80 L216.52,307.74 L214.77,307.69 L213.02,307.63 L211.27,307.58 L209.52,307.53 L207.76,307.48 L206.01,307.43 L204.26,307.38 L202.51,307.33 L200.76,307.29 L199.01,307.24 L197.26,307.20 L195.51,307.16 L193.76,307.12 L192.00,307.08 L190.25,307.04 L188.50,307.00 L186.75,306.97 L185.00,306.93 L183.25,306.90 L181.50,306.87 L179.75,306.83 L178.00,306.80 L176.24,306.78 L174.49,306.75 L172.74,306.72 L170.99,306.70 L169.24,306.67 L167.49,306.65 L165.74,306.62 L163.99,306.60 L162.23,306.58 L160.48,306.56 L158.73,306.54 L156.98,306.53 L155.23,306.51 L153.48,306.49 L151.73,306.48 L149.98,306.46 L148.23,306.45 L146.47,306.44 L144.72,306.43 L142.97,306.42 L141.22,306.41 L139.47,306.40 L137.72,306.39 L135.97,306.38 L134.22,306.37 L132.47,306.37 L130.71,306.36 L128.96,306.36 L127.21,306.35 L125.46,306.35 L123.71,306.34 L121.96,306.34 L120.21,306.34 L118.46,306.34 L116.71,306.34 L114.95,306.33 L113.20,306.33 L111.45,306.33 L109.70,306.33 L107.95,306.33 Z" fill="#550055" fill-opacity="0.1" stroke="none"/>
<path d="M107.95,306.33 L109.70,306.33 L111.45,306.33 L113.20,306.33 L114.95,306.33 L116.71,306.33 L118.46,306.33 L120.21,306.33 L121.96,306.32 L123.71,306.32 L125.46,306.32 L127.21,306.31 L128.96,306.31 L130.71,306.30 L132.47,306.30 L134.22,306.29 L135.97,306.29 L137.72,306.28 L139.47,306.27 L141.22,306.26 L142.97,306.25 L144.72,306.24 L146.47,306.23 L148.23,306.22 L149.98,306.20 L151.73,306.19 L153.48,306.17 L155.23,306.16 L156.98,306.14 L158.73,306.12 L160.48,306.10 L162.23,306.08 L163.99,306.06 L165.74,306.04 L167.49,306.02 L169.24,306.00 L170.99,305.97 L172.74,305.95 L174.49,305.92 L176.24,305.89 L178.00,305.86 L179.75,305.83 L181.50,305.80 L183.25,305.77 L185.00,305.74 L186.75,305.70 L188.50,305.67 L190.25,305.63 L192.00,305.59 L193.76,305.55 L195.51,305.51 L197.26,305.47 L199.01,305.43 L200.76,305.38 L202.51,305.34 L204.26,305.29 L206.01,305.24 L207.76,305.19 L209.52,305.14 L211.27,305.09 L213.02,305.03 L214.77,304.98 L216.52,304.92 L218.27,304.87 L220.02,304.81 L221.77,304.75 L223.52,304.69 L225.28,304.62 L227.03,304.56 L228.78,304.49 L230.53,304.42 L232.28,304.36 L234.03,304.28 L235.78,304.21 L237.53,304.14 L239.28,304.06 L241.04,303.99 L242.79,303.91 L244.54,303.83 L246.29,303.75 L248.04,303.67 L249.79,303.58 L251.54,303.50 L253.29,303.41 L255.04,303.32 L256.80,303.23 L258.55,303.14 L260.30,303.05 L262.05,302.95 L263.80,302.85 L265.55,302.75 L267.30,302.65 L269.05,302.55 L270.80,302.45 L272.56,302.34 L274.31,302.24 L276.06,302.13 L277.81,302.02 L279.56,301.91 L281.31,301.79 L283.06,301.68 L284.81,301.56 L286.56,301.44 L288.32,301.32 L290.07,301.20 L291.82,301.07 L293.57,300.95 L295.32,300.82 L297.07,300.69 L298.82,300.56 L300.57,300.42 L302.32,300.29 L304.08,300.15 L305.83,300.01 L307.58,299.87 L309.33,299.73 L311.08,299.58 L312.83,299.44 L314.58,299.29 L316.33,299.14 L318.08,298.99 L319.84,298.83 L321.59,298.68 L323.34,298.52 L325.09,298.36 L326.84,298.20 L328.59,298.03 L330.34,297.87 L332.09,297.70 L333.85,297.53 L335.60,297.36 L337.35,297.19 L339.10,297.01 L340.85,296.83 L342.60,296.65 L344.35,296.47 L346.10,296.29 L347.85,296.10 L349.61,295.92 L351.36,295.73 L353.11,295.53 L354.86,295.34 L356.61,295.14 L358.36,294.95 L360.11,294.75 L361.86,294.54 L363.61,294.34 L365.37,294.13 L367.12,293.92 L368.87,293.71 L370.62,293.50 L372.37,293.29 L374.12,293.07 L375.87,292.85 L377.62,292.63 L379.37,292.40 L381.13,292.18 L382.88,291.95 L384.63,291.72 L386.38,291.49 L388.13,291.25 L389.88,291.02 L391.63,290.78 L393.38,290.54 L395.13,290.29 L396.89,290.05 L398.64,289.80 L400.39,289.55 L402.14,289.30 L403.89,289.04 L405.64,288.79 L407.39,288.53 L409.14,288.27 L410.89,288.00 L412.65,287.74 L414.40,287.47 L416.15,287.20 L417.90,286.92 L419.65,286.65 L421.40,286.37 L423.15,286.09 L424.90,285.81 L426.65,285.52 L428.41,285.24 L430.16,284.95 L431.91,284.66 L433.66,284.36 L435.41,284.06 L437.16,283.77 L438.91,283.46 L440.66,283.16 L442.41,282.85 L444.17,282.55 L445.92,282.24 L447.67,281.92 L449.42,281.61 L451.17,281.29 L452.92,280.97 L454.67,280.64 L456.42,280.32 L458.17,279.99 L459.93,279.66 L461.68,279.33 L463.43,278.99 L465.18,278.65 L466.93,278.31 L468.68,277.97 L470.43,277.62 L472.18,277.28 L473.94,276.93 L475.69,276.57 L477.44,276.22 L479.19,275.86 L480.94,275.50 L482.69,275.14 L484.44,274.77 L486.19,274.40 L487.94,274.03 L489.70,273.66 L491.45,273.28 L493.20,272.90 L494.95,272.52 L496.70,272.14 L498.45,271.75 L500.20,271.36 L501.95,270.97 L503.70,270.58 L505.46,270.18 L507.21,269.78 L508.96,269.38 L510.71,268.97 L512.46,268.57 L514.21,268.16 L515.96,267.74 L517.71,267.33 L519.46,266.91 L521.22,266.49 L522.97,266.07 L524.72,265.64 L526.47,265.21 L528.22,264.78 L529.97,264.34 L531.72,263.91 L533.47,263.47 L535.22,263.03 L536.98,262.58 L538.73,262.13 L540.48,261.68 L542.23,261.23 L543.98,260.77 L545.73,260.31 L547.48,259.85 L549.23,259.39 L550.98,258.92 L552.74,258.45 L554.49,257.98 L556.24,257.50 L557.99,257.02 L559.74,256.54 L561.49,256.06 L563.24,255.57 L564.99,255.08 L566.74,254.59 L568.50,254.10 L570.25,253.60 L572.00,253.10 L573.75,252.59 L575.50,252.09 L577.25,251.58 L579.00,251.07 L580.75,250.55 L582.50,250.03 L584.26,249.51 L586.01,248.99 L587.76,248.46 L589.51,247.93 L591.26,247.40 L593.01,246.86 L594.76,246.33 L596.51,245.78 L598.26,245.24 L600.02,244.69 L601.77,244.14 L603.52,243.59 L605.27,243.04 L607.02,242.48 L608.77,241.92 L610.52,241.35 L612.27,240.78 L614.03,240.21 L615.78,239.64 L617.53,239.06 L619.28,238.48 L621.03,237.90 L622.78,237.32 L624.53,236.73 L626.28,236.14 L628.03,235.54 L629.79,234.94 L631.54,234.34 L633.29,233.74 L635.04,233.13 L636.79,232.52 L638.54,231.91 L640.29,231.30 L642.04,230.68 L643.79,230.06 L645.55,229.43 L647.30,228.80 L649.05,228.17 L650.80,227.54 L652.55,226.90 L654.30,226.26 L656.05,225.62 L657.80,224.97 L659.55,224.32 L661.31,223.67 L663.06,223.02 L664.81,222.36 L666.56,221.69 L668.31,221.03 L670.06,220.36 L671.81,219.69 L673.56,219.02 L675.31,218.34 L677.07,217.66 L678.82,216.97 L680.57,216.29 L682.32,215.60 L684.07,214.90 L685.82,214.21 L687.57,213.51 L689.32,212.81 L691.07,212.10 L692.83,211.39 L694.58,210.68 L696.33,209.96 L698.08,209.25 L699.83,208.52 L701.58,207.80 L703.33,207.07 L705.08,206.34 L706.83,205.60 L708.59,204.87 L710.34,204.12 L712.09,203.38 L713.84,202.63 L715.59,201.88 L717.34,201.13 L719.09,200.37 L720.84,199.61 L722.59,198.85 L724.35,198.08 L726.10,197.31 L727.85,196.53 L729.60,195.76 L731.35,194.98 L733.10,194.19 L734.85,193.41 L736.60,192.62 L738.36,191.82 L740.11,191.03 L741.86,190.23 L743.61,189.42 L745.36,188.61 L747.11,187.80 L748.86,186.99 L750.61,186.17 L752.36,185.35 L754.12,184.53 L755.87,183.70 L757.62,182.87 L759.37,182.04 L761.12,181.20 L762.87,180.36 L764.62,179.52 L766.37,178.67 L768.12,177.82 L769.88,176.97 L771.63,176.11 L773.38,175.25 L775.13,174.38 L776.88,173.52 L778.63,172.65 L780.38,171.77 L782.13,170.89 L783.88,170.01 L785.64,169.13 L787.39,168.24 L789.14,167.35 L790.89,166.45 L792.64,165.56 L794.39,164.65 L796.14,163.75 L797.89,162.84 L799.64,161.93 L801.40,161.01 L803.15,160.09 L804.90,159.17 L806.65,158.24 L808.40,157.31" fill="none" stroke="#7d2a7d" stroke-width="0.9"/>
<path d="M107.95,306.33 L109.70,306.33 L111.45,306.33 L113.20,306.33 L114.95,306.33 L116.71,306.34 L118.46,306.34 L120.21,306.34 L121.96,306.34 L123.71,306.34 L125.46,306.35 L127.21,306.35 L128.96,306.36 L130.71,306.36 L132.47,306.37 L134.22,306.37 L135.97,306.38 L137.72,306.39 L139.47,306.40 L141.22,306.41 L142.97,306.42 L144.72,306.43 L146.47,306.44 L148.23,306.45 L149.98,306.46 L151.73,306.48 L153.48,306.49 L155.23,306.51 L156.98,306.53 L158.73,306.54 L160.48,306.56 L162.23,306.58 L163.99,306.60 L165.74,306.62 L167.49,306.65 L169.24,306.67 L170.99,306.70 L172.74,306.72 L174.49,306.75 L176.24,306.78 L178.00,306.80 L179.75,306.83 L181.50,306.87 L183.25,306.90 L185.00,306.93 L186.75,306.97 L188.50,307.00 L190.25,307.04 L192.00,307.08 L193.76,307.12 L195.51,307.16 L197.26,307.20 L199.01,307.24 L200.76,307.29 L202.51,307.33 L204.26,307.38 L206.01,307.43 L207.76,307.48 L209.52,307.53 L211.27,307.58 L213.02,307.63 L214.77,307.69 L216.52,307.74 L218.27,307.80 L220.02,307.86 L221.77,307.92 L223.52,307.98 L225.28,308.04 L227.03,308.11 L228.78,308.18 L230.53,308.24 L232.28,308.31 L234.03,308.38 L235.78,308.45 L237.53,308.53 L239.28,308.60 L241.04,308.68 L242.79,308.76 L244.54,308.84 L246.29,308.92 L248.04,309.00 L249.79,309.08 L251.54,309.17 L253.29,309.26 L255.04,309.34 L256.80,309.44 L258.55,309.53 L260.30,309.62 L262.05,309.72 L263.80,309.81 L265.55,309.91 L267.30,310.01 L269.05,310.11 L270.80,310.22 L272.56,310.32 L274.31,310.43 L276.06,310.54 L277.81,310.65 L279.56,310.76 L281.31,310.87 L283.06,310.99 L284.81,311.11 L286.56,311.23 L288.32,311.35 L290.07,311.47 L291.82,311.59 L293.57,311.72 L295.32,311.85 L297.07,311.98 L298.82,312.11 L300.57,312.24 L302.32,312.38 L304.08,312.52 L305.83,312.65 L307.58,312.80 L309.33,312.94 L311.08,313.08 L312.83,313.23 L314.58,313.38 L316.33,313.53 L318.08,313.68 L319.84,313.83 L321.59,313.99 L323.34,314.15 L325.09,314.31 L326.84,314.47 L328.59,314.63 L330.34,314.80 L332.09,314.97 L333.85,315.14 L335.60,315.31 L337.35,315.48 L339.10,315.66 L340.85,315.83 L342.60,316.01 L344.35,316.19 L346.10,316.38 L347.85,316.56 L349.61,316.75 L351.36,316.94 L353.11,317.13 L354.86,317.33 L356.61,317.52 L358.36,317.72 L360.11,317.92 L361.86,318.12 L363.61,318.33 L365.37,318.53 L367.12,318.74 L368.87,318.95 L370.62,319.17 L372.37,319.38 L374.12,319.60 L375.87,319.82 L377.62,320.04 L379.37,320.26 L381.13,320.49 L382.88,320.72 L384.63,320.95 L386.38,321.18 L388.13,321.41 L389.88,321.65 L391.63,321.89 L393.38,322.13 L395.13,322.37 L396.89,322.62 L398.64,322.87 L400.39,323.12 L402.14,323.37 L403.89,323.62 L405.64,323.88 L407.39,324.14 L409.14,324.40 L410.89,324.67 L412.65,324.93 L414.40,325.20 L416.15,325.47 L417.90,325.74 L419.65,326.02 L421.40,326.30 L423.15,326.58 L424.90,326.86 L426.65,327.14 L428.41,327.43 L430.16,327.72 L431.91,328.01 L433.66,328.31 L435.41,328.60 L437.16,328.90 L438.91,329.20 L440.66,329.51 L442.41,329.81 L444.17,330.12 L445.92,330.43 L447.67,330.74 L449.42,331.06 L451.17,331.38 L452.92,331.70 L454.67,332.02 L456.42,332.35 L458.17,332.68 L459.93,333.01 L461.68,333.34 L463.43,333.68 L465.18,334.01 L466.93,334.35 L468.68,334.70 L470.43,335.04 L472.18,335.39 L473.94,335.74 L475.69,336.09 L477.44,336.45 L479.19,336.81 L480.94,337.17 L482.69,337.53 L484.44,337.90 L486.19,338.27 L487.94,338.64 L489.70,339.01 L491.45,339.39 L493.20,339.76 L494.95,340.15 L496.70,340.53 L498.45,340.92 L500.20,341.30 L501.95,341.70 L503.70,342.09 L505.46,342.49 L507.21,342.89 L508.96,343.29 L510.71,343.69 L512.46,344.10 L514.21,344.51 L515.96,344.92 L517.71,345.34 L519.46,345.76 L521.22,346.18 L522.97,346.60 L524.72,347.03 L526.47,347.46 L528.22,347.89 L529.97,348.32 L531.72,348.76 L533.47,349.20 L535.22,349.64 L536.98,350.09 L538.73,350.53 L540.48,350.98 L542.23,351.44 L543.98,351.89 L545.73,352.35 L547.48,352.81 L549.23,353.28 L550.98,353.75 L552.74,354.22 L554.49,354.69 L556.24,355.16 L557.99,355.64 L559.74,356.12 L561.49,356.61 L563.24,357.09 L564.99,357.58 L566.74,358.08 L568.50,358.57 L570.25,359.07 L572.00,359.57 L573.75,360.07 L575.50,360.58 L577.25,361.09 L579.00,361.60 L580.75,362.12 L582.50,362.63 L584.26,363.16 L586.01,363.68 L587.76,364.21 L589.51,364.73 L591.26,365.27 L593.01,365.80 L594.76,366.34 L596.51,366.88 L598.26,367.43 L600.02,367.97 L601.77,368.52 L603.52,369.08 L605.27,369.63 L607.02,370.19 L608.77,370.75 L610.52,371.32 L612.27,371.88 L614.03,372.45 L615.78,373.03 L617.53,373.60 L619.28,374.18 L621.03,374.77 L622.78,375.35 L624.53,375.94 L626.28,376.53 L628.03,377.13 L629.79,377.72 L631.54,378.32 L633.29,378.93 L635.04,379.53 L636.79,380.14 L638.54,380.75 L640.29,381.37 L642.04,381.99 L643.79,382.61 L645.55,383.24 L647.30,383.86 L649.05,384.49 L650.80,385.13 L652.55,385.76 L654.30,386.40 L656.05,387.05 L657.80,387.69 L659.55,388.34 L661.31,389.00 L663.06,389.65 L664.81,390.31 L666.56,390.97 L668.31,391.64 L670.06,392.30 L671.81,392.98 L673.56,393.65 L675.31,394.33 L677.07,395.01 L678.82,395.69 L680.57,396.38 L682.32,397.07 L684.07,397.76 L685.82,398.46 L687.57,399.16 L689.32,399.86 L691.07,400.57 L692.83,401.28 L694.58,401.99 L696.33,402.70 L698.08,403.42 L699.83,404.14 L701.58,404.87 L703.33,405.60 L705.08,406.33 L706.83,407.06 L708.59,407.80 L710.34,408.54 L712.09,409.29 L713.84,410.03 L715.59,410.79 L717.34,411.54 L719.09,412.30 L720.84,413.06 L722.59,413.82 L724.35,414.59 L726.10,415.36 L727.85,416.13 L729.60,416.91 L731.35,417.69 L733.10,418.47 L734.85,419.26 L736.60,420.05 L738.36,420.84 L740.11,421.64 L741.86,422.44 L743.61,423.25 L745.36,424.05 L747.11,424.86 L748.86,425.68 L750.61,426.49 L752.36,427.31 L754.12,428.14 L755.87,428.96 L757.62,429.79 L759.37,430.63 L761.12,431.46 L762.87,432.30 L764.62,433.15 L766.37,434.00 L768.12,434.85 L769.88,435.70 L771.63,436.56 L773.38,437.42 L775.13,438.28 L776.88,439.15 L778.63,440.02 L780.38,440.89 L782.13,441.77 L783.88,442.65 L785.64,443.54 L787.39,444.43 L789.14,445.32 L790.89,446.21 L792.64,447.11 L794.39,448.01 L796.14,448.92 L797.89,449.83 L799.64,450.74 L801.40,451.65 L803.15,452.57 L804.90,453.50 L806.65,454.42 L808.40,455.35" fill="none" stroke="#7d2a7d" stroke-width="0.9"/>
<line x1="107.95" y1="306.33" x2="808.40" y2="306.33" stroke="#8a8a8a" stroke-width="0.7"/>
<path d="M107.95,306.33 L109.70,306.33 L111.45,306.33 L113.20,306.33 L114.95,306.33 L116.71,306.32 L118.46,306.31 L120.21,306.31 L121.96,306.29 L123.71,306.28 L125.46,306.27 L127.21,306.25 L128.96,306.23 L130.71,306.20 L132.47,306.18 L134.22,306.15 L135.97,306.12 L137.72,306.08 L139.47,306.04 L141.22,306.00 L142.97,305.96 L144.72,305.91 L146.47,305.86 L148.23,305.81 L149.98,305.75 L151.73,305.69 L153.48,305.62 L155.23,305.56 L156.98,305.49 L158.73,305.41 L160.48,305.33 L162.23,305.25 L163.99,305.17 L165.74,305.08 L167.49,304.99 L169.24,304.89 L170.99,304.79 L172.74,304.69 L174.49,304.58 L176.24,304.47 L178.00,304.35 L179.75,304.23 L181.50,304.11 L183.25,303.99 L185.00,303.86 L186.75,303.72 L188.50,303.58 L190.25,303.44 L192.00,303.29 L193.76,303.14 L195.51,302.99 L197.26,302.83 L199.01,302.67 L200.76,302.50 L202.51,302.33 L204.26,302.16 L206.01,301.98 L207.76,301.79 L209.52,301.61 L211.27,301.42 L213.02,301.22 L214.77,301.02 L216.52,300.82 L218.27,300.61 L220.02,300.40 L221.77,300.18 L223.52,299.96 L225.28,299.73 L227.03,299.50 L228.78,299.27 L230.53,299.03 L232.28,298.79 L234.03,298.54 L235.78,298.29 L237.53,298.03 L239.28,297.78 L241.04,297.51 L242.79,297.24 L244.54,296.97 L246.29,296.69 L248.04,296.41 L249.79,296.12 L251.54,295.83 L253.29,295.54 L255.04,295.24 L256.80,294.93 L258.55,294.63 L260.30,294.31 L262.05,294.00 L263.80,293.67 L265.55,293.35 L267.30,293.02 L269.05,292.68 L270.80,292.34 L272.56,292.00 L274.31,291.65 L276.06,291.29 L277.81,290.94 L279.56,290.57 L281.31,290.21 L283.06,289.83 L284.81,289.46 L286.56,289.08 L288.32,288.69 L290.07,288.30 L291.82,287.91 L293.57,287.51 L295.32,287.10 L297.07,286.69 L298.82,286.28 L300.57,285.86 L302.32,285.44 L304.08,285.01 L305.83,284.58 L307.58,284.15 L309.33,283.71 L311.08,283.26 L312.83,282.81 L314.58,282.36 L316.33,281.90 L318.08,281.43 L319.84,280.96 L321.59,280.49 L323.34,280.01 L325.09,279.53 L326.84,279.04 L328.59,278.55 L330.34,278.05 L332.09,277.55 L333.85,277.04 L335.60,276.53 L337.35,276.02 L339.10,275.50 L340.85,274.97 L342.60,274.44 L344.35,273.91 L346.10,273.37 L347.85,272.82 L349.61,272.27 L351.36,271.72 L353.11,271.16 L354.86,270.60 L356.61,270.03 L358.36,269.46 L360.11,268.88 L361.86,268.30 L363.61,267.71 L365.37,267.12 L367.12,266.52 L368.87,265.92 L370.62,265.31 L372.37,264.70 L374.12,264.09 L375.87,263.47 L377.62,262.84 L379.37,262.21 L381.13,261.58 L382.88,260.94 L384.63,260.29 L386.38,259.64 L388.13,258.99 L389.88,258.33 L391.63,257.67 L393.38,257.00 L395.13,256.33 L396.89,255.65 L398.64,254.96 L400.39,254.28 L402.14,253.58 L403.89,252.89 L405.64,252.18 L407.39,251.48 L409.14,250.76 L410.89,250.05 L412.65,249.33 L414.40,248.60 L416.15,247.87 L417.90,247.13 L419.65,246.39 L421.40,245.65 L423.15,244.90 L424.90,244.14 L426.65,243.38 L428.41,242.61 L430.16,241.84 L431.91,241.07 L433.66,240.29 L435.41,239.50 L437.16,238.71 L438.91,237.92 L440.66,237.12 L442.41,236.32 L444.17,235.51 L445.92,234.69 L447.67,233.87 L449.42,233.05 L451.17,232.22 L452.92,231.39 L454.67,230.55 L456.42,229.71 L458.17,228.86 L459.93,228.01 L461.68,227.15 L463.43,226.29 L465.18,225.42 L466.93,224.55 L468.68,223.67 L470.43,222.79 L472.18,221.90 L473.94,221.01 L475.69,220.11 L477.44,219.21 L479.19,218.30 L480.94,217.39 L482.69,216.47 L484.44,215.55 L486.19,214.63 L487.94,213.69 L489.70,212.76 L491.45,211.82 L493.20,210.87 L494.95,209.92 L496.70,208.96 L498.45,208.00 L500.20,207.04 L501.95,206.07 L503.70,205.09 L505.46,204.11 L507.21,203.13 L508.96,202.14 L510.71,201.14 L512.46,200.14 L514.21,199.13 L515.96,198.12 L517.71,197.11 L519.46,196.09 L521.22,195.07 L522.97,194.04 L524.72,193.00 L526.47,191.96 L528.22,190.92 L529.97,189.87 L531.72,188.81 L533.47,187.75 L535.22,186.69 L536.98,185.62 L538.73,184.55 L540.48,183.47 L542.23,182.38 L543.98,181.30 L545.73,180.20 L547.48,179.10 L549.23,178.00 L550.98,176.89 L552.74,175.78 L554.49,174.66 L556.24,173.54 L557.99,172.41 L559.74,171.28 L561.49,170.14 L563.24,168.99 L564.99,167.85 L566.74,166.69 L568.50,165.54 L570.25,164.37 L572.00,163.20 L573.75,162.03 L575.50,160.85 L577.25,159.67 L579.00,158.48 L580.75,157.29 L582.50,156.09 L584.26,154.89 L586.01,153.68 L587.76,152.47 L589.51,151.25 L591.26,150.03 L593.01,148.81 L594.76,147.57 L596.51,146.34 L598.26,145.09 L600.02,143.85 L601.77,142.60 L603.52,141.34 L605.27,140.08 L607.02,138.81 L608.77,137.54 L610.52,136.26 L612.27,134.98 L614.03,133.69 L615.78,132.40 L617.53,131.11 L619.28,129.80 L621.03,128.50 L622.78,127.19 L624.53,125.87 L626.28,124.55 L628.03,123.22 L629.79,121.89 L631.54,120.56 L633.29,119.22 L635.04,117.87 L636.79,116.52 L638.54,115.16 L640.29,113.80 L642.04,112.44 L643.79,111.07 L645.55,109.69 L647.30,108.31 L649.05,106.92 L650.80,105.53 L652.55,104.14 L654.30,102.74 L656.05,101.33 L657.80,99.92 L659.55,98.51 L661.31,97.09 L663.06,95.66 L664.81,94.23 L666.56,92.80 L668.31,91.36 L670.06,89.91 L671.81,88.46 L673.56,87.01 L675.31,85.55 L677.07,84.08 L678.82,82.61 L680.57,81.14 L682.32,79.66 L684.07,78.17 L685.82,76.68 L687.57,75.19 L689.32,73.69 L691.07,72.18 L692.83,70.67 L694.58,69.16 L696.33,67.64 L698.08,66.12 L699.83,64.59 L701.58,63.05 L703.33,61.51 L705.08,59.97 L706.83,58.42 L708.59,56.87 L710.34,55.31 L712.09,53.74 L713.84,52.17 L715.59,50.60 L717.34,49.02 L719.09,47.44 L720.84,45.85 L722.59,44.26 L724.35,42.66 L726.10,41.05 L727.85,39.44 L729.60,37.83 L731.35,36.21 L733.10,34.59 L734.85,32.96 L736.60,31.33 L738.36,29.69 L740.11,28.05 L741.86,26.40 L743.61,24.74 L745.36,23.09 L747.11,21.42 L748.86,19.75 L750.61,18.08 L752.36,16.40 L754.12,14.72 L755.87,13.03 L757.62,11.34 L759.37,9.64 L761.12,7.94 L762.87,6.23 L764.62,4.52 L766.37,2.80 L768.12,1.08 L769.88,-0.65 L771.63,-2.38 L773.38,-4.12 L775.13,-5.86 L776.88,-7.61 L778.63,-9.36 L780.38,-11.12 L782.13,-12.88 L783.88,-14.65 L785.64,-16.42 L787.39,-18.19 L789.14,-19.98 L790.89,-21.76 L792.64,-23.56 L794.39,-25.35 L796.14,-27.15 L797.89,-28.96 L799.64,-30.77 L801.40,-32.59 L803.15,-34.41 L804.90,-36.24 L806.65,-38.07 L808.40,-39.90" fill="none" stroke="#0000aa" stroke-width="3.6" stroke-linejoin="round"/>
<path d="M107.95,306.33 L109.70,306.33 L111.45,306.33 L113.20,306.33 L114.95,306.33 L116.71,306.33 L118.46,306.33 L120.21,306.32 L121.96,306.32 L123.71,306.31 L125.46,306.31 L127.21,306.31 L128.96,306.30 L130.71,306.29 L132.47,306.29 L134.22,306.28 L135.97,306.28 L137.72,306.27 L139.47,306.26 L141.22,306.25 L142.97,306.24 L144.72,306.23 L146.47,306.22 L148.23,306.21 L149.98,306.20 L151.73,306.19 L153.48,306.18 L155.23,306.17 L156.98,306.16 L158.73,306.14 L160.48,306.13 L162.23,306.12 L163.99,306.10 L165.74,306.09 L167.49,306.07 L169.24,306.06 L170.99,306.04 L172.74,306.03 L174.49,306.01 L176.24,305.99 L178.00,305.98 L179.75,305.96 L181.50,305.94 L183.25,305.92 L185.00,305.90 L186.75,305.88 L188.50,305.86 L190.25,305.84 L192.00,305.82 L193.76,305.80 L195.51,305.78 L197.26,305.76 L199.01,305.74 L200.76,305.71 L202.51,305.69 L204.26,305.67 L206.01,305.64 L207.76,305.62 L209.52,305.59 L211.27,305.57 L213.02,305.54 L214.77,305.52 L216.52,305.49 L218.27,305.47 L220.02,305.44 L221.77,305.41 L223.52,305.38 L225.28,305.35 L227.03,305.33 L228.78,305.30 L230.53,305.27 L232.28,305.24 L234.03,305.21 L235.78,305.18 L237.53,305.15 L239.28,305.11 L241.04,305.08 L242.79,305.05 L244.54,305.02 L246.29,304.98 L248.04,304.95 L249.79,304.92 L251.54,304.88 L253.29,304.85 L255.04,304.81 L256.80,304.78 L258.55,304.74 L260.30,304.71 L262.05,304.67 L263.80,304.63 L265.55,304.60 L267.30,304.56 L269.05,304.52 L270.80,304.48 L272.56,304.44 L274.31,304.41 L276.06,304.37 L277.81,304.33 L279.56,304.29 L281.31,304.25 L283.06,304.21 L284.81,304.16 L286.56,304.12 L288.32,304.08 L290.07,304.04 L291.82,304.00 L293.57,303.95 L295.32,303.91 L297.07,303.87 L298.82,303.82 L300.57,303.78 L302.32,303.73 L304.08,303.69 L305.83,303.64 L307.58,303.60 L309.33,303.55 L311.08,303.50 L312.83,303.46 L314.58,303.41 L316.33,303.36 L318.08,303.31 L319.84,303.27 L321.59,303.22 L323.34,303.17 L325.09,303.12 L326.84,303.07 L328.59,303.02 L330.34,302.97 L332.09,302.92 L333.85,302.87 L335.60,302.82 L337.35,302.76 L339.10,302.71 L340.85,302.66 L342.60,302.61 L344.35,302.55 L346.10,302.50 L347.85,302.45 L349.61,302.39 L351.36,302.34 L353.11,302.28 L354.86,302.23 L356.61,302.17 L358.36,302.12 L360.11,302.06 L361.86,302.00 L363.61,301.95 L365.37,301.89 L367.12,301.83 L368.87,301.78 L370.62,301.72 L372.37,301.66 L374.12,301.60 L375.87,301.54 L377.62,301.48 L379.37,301.42 L381.13,301.36 L382.88,301.30 L384.63,301.24 L386.38,301.18 L388.13,301.12 L389.88,301.06 L391.63,301.00 L393.38,300.93 L395.13,300.87 L396.89,300.81 L398.64,300.74 L400.39,300.68 L402.14,300.62 L403.89,300.55 L405.64,300.49 L407.39,300.42 L409.14,300.36 L410.89,300.29 L412.65,300.23 L414.40,300.16 L416.15,300.09 L417.90,300.03 L419.65,299.96 L421.40,299.89 L423.15,299.83 L424.90,299.76 L426.65,299.69 L428.41,299.62 L430.16,299.55 L431.91,299.48 L433.66,299.41 L435.41,299.34 L437.16,299.27 L438.91,299.20 L440.66,299.13 L442.41,299.06 L444.17,298.99 L445.92,298.92 L447.67,298.85 L449.42,298.78 L451.17,298.70 L452.92,298.63 L454.67,298.56 L456.42,298.48 L458.17,298.41 L459.93,298.34 L461.68,298.26 L463.43,298.19 L465.18,298.11 L466.93,298.04 L468.68,297.96 L470.43,297.89 L472.18,297.81 L473.94,297.74 L475.69,297.66 L477.44,297.58 L479.19,297.50 L480.94,297.43 L482.69,297.35 L484.44,297.27 L486.19,297.19 L487.94,297.11 L489.70,297.04 L491.45,296.96 L493.20,296.88 L494.95,296.80 L496.70,296.72 L498.45,296.64 L500.20,296.56 L501.95,296.48 L503.70,296.40 L505.46,296.31 L507.21,296.23 L508.96,296.15 L510.71,296.07 L512.46,295.99 L514.21,295.90 L515.96,295.82 L517.71,295.74 L519.46,295.65 L521.22,295.57 L522.97,295.49 L524.72,295.40 L526.47,295.32 L528.22,295.23 L529.97,295.15 L531.72,295.06 L533.47,294.98 L535.22,294.89 L536.98,294.80 L538.73,294.72 L540.48,294.63 L542.23,294.54 L543.98,294.46 L545.73,294.37 L547.48,294.28 L549.23,294.19 L550.98,294.10 L552.74,294.01 L554.49,293.93 L556.24,293.84 L557.99,293.75 L559.74,293.66 L561.49,293.57 L563.24,293.48 L564.99,293.39 L566.74,293.30 L568.50,293.20 L570.25,293.11 L572.00,293.02 L573.75,292.93 L575.50,292.84 L577.25,292.75 L579.00,292.65 L580.75,292.56 L582.50,292.47 L584.26,292.37 L586.01,292.28 L587.76,292.19 L589.51,292.09 L591.26,292.00 L593.01,291.90 L594.76,291.81 L596.51,291.71 L598.26,291.62 L600.02,291.52 L601.77,291.43 L603.52,291.33 L605.27,291.23 L607.02,291.14 L608.77,291.04 L610.52,290.94 L612.27,290.85 L614.03,290.75 L615.78,290.65 L617.53,290.55 L619.28,290.45 L621.03,290.36 L622.78,290.26 L624.53,290.16 L626.28,290.06 L628.03,289.96 L629.79,289.86 L631.54,289.76 L633.29,289.66 L635.04,289.56 L636.79,289.46 L638.54,289.36 L640.29,289.26 L642.04,289.15 L643.79,289.05 L645.55,288.95 L647.30,288.85 L649.05,288.75 L650.80,288.64 L652.55,288.54 L654.30,288.44 L656.05,288.33 L657.80,288.23 L659.55,288.13 L661.31,288.02 L663.06,287.92 L664.81,287.81 L666.56,287.71 L668.31,287.60 L670.06,287.50 L671.81,287.39 L673.56,287.29 L675.31,287.18 L677.07,287.08 L678.82,286.97 L680.57,286.86 L682.32,286.76 L684.07,286.65 L685.82,286.54 L687.57,286.43 L689.32,286.33 L691.07,286.22 L692.83,286.11 L694.58,286.00 L696.33,285.89 L698.08,285.78 L699.83,285.67 L701.58,285.57 L703.33,285.46 L705.08,285.35 L706.83,285.24 L708.59,285.13 L710.34,285.02 L712.09,284.90 L713.84,284.79 L715.59,284.68 L717.34,284.57 L719.09,284.46 L720.84,284.35 L722.59,284.24 L724.35,284.12 L726.10,284.01 L727.85,283.90 L729.60,283.79 L731.35,283.67 L733.10,283.56 L734.85,283.45 L736.60,283.33 L738.36,283.22 L740.11,283.10 L741.86,282.99 L743.61,282.88 L745.36,282.76 L747.11,282.65 L748.86,282.53 L750.61,282.42 L752.36,282.30 L754.12,282.18 L755.87,282.07 L757.62,281.95 L759.37,281.83 L761.12,281.72 L762.87,281.60 L764.62,281.48 L766.37,281.37 L768.12,281.25 L769.88,281.13 L771.63,281.01 L773.38,280.90 L775.13,280.78 L776.88,280.66 L778.63,280.54 L780.38,280.42 L782.13,280.30 L783.88,280.18 L785.64,280.06 L787.39,279.94 L789.14,279.82 L790.89,279.70 L792.64,279.58 L794.39,279.46 L796.14,279.34 L797.89,279.22 L799.64,279.10 L801.40,278.98 L803.15,278.86 L804.90,278.73 L806.65,278.61 L808.40,278.49" fill="none" stroke="#0000aa" stroke-width="3.6" stroke-linejoin="round"/>
</g>
<g stroke="#161616" stroke-width="1.40" fill="none">
<rect x="107.95" y="17.80" width="700.45" height="432.80"/>
<line x1="142.97" y1="450.60" x2="142.97" y2="445.50"/>
<line x1="142.97" y1="17.80" x2="142.97" y2="22.90"/>
<line x1="178.00" y1="450.60" x2="178.00" y2="445.50"/>
<line x1="178.00" y1="17.80" x2="178.00" y2="22.90"/>
<line x1="213.02" y1="450.60" x2="213.02" y2="445.50"/>
<line x1="213.02" y1="17.80" x2="213.02" y2="22.90"/>
<line x1="248.04" y1="450.60" x2="248.04" y2="445.50"/>
<line x1="248.04" y1="17.80" x2="248.04" y2="22.90"/>
<line x1="283.06" y1="450.60" x2="283.06" y2="442.40"/>
<line x1="283.06" y1="17.80" x2="283.06" y2="26.00"/>
<line x1="318.08" y1="450.60" x2="318.08" y2="445.50"/>
<line x1="318.08" y1="17.80" x2="318.08" y2="22.90"/>
<line x1="353.11" y1="450.60" x2="353.11" y2="445.50"/>
<line x1="353.11" y1="17.80" x2="353.11" y2="22.90"/>
<line x1="388.13" y1="450.60" x2="388.13" y2="445.50"/>
<line x1="388.13" y1="17.80" x2="388.13" y2="22.90"/>
<line x1="423.15" y1="450.60" x2="423.15" y2="445.50"/>
<line x1="423.15" y1="17.80" x2="423.15" y2="22.90"/>
<line x1="458.17" y1="450.60" x2="458.17" y2="442.40"/>
<line x1="458.17" y1="17.80" x2="458.17" y2="26.00"/>
<line x1="493.20" y1="450.60" x2="493.20" y2="445.50"/>
<line x1="493.20" y1="17.80" x2="493.20" y2="22.90"/>
<line x1="528.22" y1="450.60" x2="528.22" y2="445.50"/>
<line x1="528.22" y1="17.80" x2="528.22" y2="22.90"/>
<line x1="563.24" y1="450.60" x2="563.24" y2="445.50"/>
<line x1="563.24" y1="17.80" x2="563.24" y2="22.90"/>
<line x1="598.26" y1="450.60" x2="598.26" y2="445.50"/>
<line x1="598.26" y1="17.80" x2="598.26" y2="22.90"/>
<line x1="633.29" y1="450.60" x2="633.29" y2="442.40"/>
<line x1="633.29" y1="17.80" x2="633.29" y2="26.00"/>
<line x1="668.31" y1="450.60" x2="668.31" y2="445.50"/>
<line x1="668.31" y1="17.80" x2="668.31" y2="22.90"/>
<line x1="703.33" y1="450.60" x2="703.33" y2="445.50"/>
<line x1="703.33" y1="17.80" x2="703.33" y2="22.90"/>
<line x1="738.36" y1="450.60" x2="738.36" y2="445.50"/>
<line x1="738.36" y1="17.80" x2="738.36" y2="22.90"/>
<line x1="773.38" y1="450.60" x2="773.38" y2="445.50"/>
<line x1="773.38" y1="17.80" x2="773.38" y2="22.90"/>
<line x1="107.95" y1="450.60" x2="116.15" y2="450.60"/>
<line x1="808.40" y1="450.60" x2="800.20" y2="450.60"/>
<line x1="107.95" y1="436.17" x2="113.05" y2="436.17"/>
<line x1="808.40" y1="436.17" x2="803.30" y2="436.17"/>
<line x1="107.95" y1="421.75" x2="113.05" y2="421.75"/>
<line x1="808.40" y1="421.75" x2="803.30" y2="421.75"/>
<line x1="107.95" y1="407.32" x2="113.05" y2="407.32"/>
<line x1="808.40" y1="407.32" x2="803.30" y2="407.32"/>
<line x1="107.95" y1="392.89" x2="113.05" y2="392.89"/>
<line x1="808.40" y1="392.89" x2="803.30" y2="392.89"/>
<line x1="107.95" y1="378.47" x2="116.15" y2="378.47"/>
<line x1="808.40" y1="378.47" x2="800.20" y2="378.47"/>
<line x1="107.95" y1="364.04" x2="113.05" y2="364.04"/>
<line x1="808.40" y1="364.04" x2="803.30" y2="364.04"/>
<line x1="107.95" y1="349.61" x2="113.05" y2="349.61"/>
<line x1="808.40" y1="349.61" x2="803.30" y2="349.61"/>
<line x1="107.95" y1="335.19" x2="113.05" y2="335.19"/>
<line x1="808.40" y1="335.19" x2="803.30" y2="335.19"/>
<line x1="107.95" y1="320.76" x2="113.05" y2="320.76"/>
<line x1="808.40" y1="320.76" x2="803.30" y2="320.76"/>
<line x1="107.95" y1="306.33" x2="116.15" y2="306.33"/>
<line x1="808.40" y1="306.33" x2="800.20" y2="306.33"/>
<line x1="107.95" y1="291.91" x2="113.05" y2="291.91"/>
<line x1="808.40" y1="291.91" x2="803.30" y2="291.91"/>
<line x1="107.95" y1="277.48" x2="113.05" y2="277.48"/>
<line x1="808.40" y1="277.48" x2="803.30" y2="277.48"/>
<line x1="107.95" y1="263.05" x2="113.05" y2="263.05"/>
<line x1="808.40" y1="263.05" x2="803.30" y2="263.05"/>
<line x1="107.95" y1="248.63" x2="113.05" y2="248.63"/>
<line x1="808.40" y1="248.63" x2="803.30" y2="248.63"/>
<line x1="107.95" y1="234.20" x2="116.15" y2="234.20"/>
<line x1="808.40" y1="234.20" x2="800.20" y2="234.20"/>
<line x1="107.95" y1="219.77" x2="113.05" y2="219.77"/>
<line x1="808.40" y1="219.77" x2="803.30" y2="219.77"/>
<line x1="107.95" y1="205.35" x2="113.05" y2="205.35"/>
<line x1="808.40" y1="205.35" x2="803.30" y2="205.35"/>
<line x1="107.95" y1="190.92" x2="113.05" y2="190.92"/>
<line x1="808.40" y1="190.92" x2="803.30" y2="190.92"/>
<line x1="107.95" y1="176.49" x2="113.05" y2="176.49"/>
<line x1="808.40" y1="176.49" x2="803.30" y2="176.49"/>
<line x1="107.95" y1="162.07" x2="116.15" y2="162.07"/>
<line x1="808.40" y1="162.07" x2="800.20" y2="162.07"/>
<line x1="107.95" y1="147.64" x2="113.05" y2="147.64"/>
<line x1="808.40" y1="147.64" x2="803.30" y2="147.64"/>
<line x1="107.95" y1="133.21" x2="113.05" y2="133.21"/>
<line x1="808.40" y1="133.21" x2="803.30" y2="133.21"/>
<line x1="107.95" y1="118.79" x2="113.05" y2="118.79"/>
<line x1="808.40" y1="118.79" x2="803.30" y2="118.79"/>
<line x1="107.95" y1="104.36" x2="113.05" y2="104.36"/>
<line x1="808.40" y1="104.36" x2="803.30" y2="104.36"/>
<line x1="107.95" y1="89.93" x2="116.15" y2="89.93"/>
<line x1="808.40" y1="89.93" x2="800.20" y2="89.93"/>
<line x1="107.95" y1="75.51" x2="113.05" y2="75.51"/>
<line x1="808.40" y1="75.51" x2="803.30" y2="75.51"/>
<line x1="107.95" y1="61.08" x2="113.05" y2="61.08"/>
<line x1="808.40" y1="61.08" x2="803.30" y2="61.08"/>
<line x1="107.95" y1="46.65" x2="113.05" y2="46.65"/>
<line x1="808.40" y1="46.65" x2="803.30" y2="46.65"/>
<line x1="107.95" y1="32.23" x2="113.05" y2="32.23"/>
<line x1="808.40" y1="32.23" x2="803.30" y2="32.23"/>
<line x1="107.95" y1="17.80" x2="116.15" y2="17.80"/>
<line x1="808.40" y1="17.80" x2="800.20" y2="17.80"/>
</g>
<g style="will-change:opacity">
<g font-family="Liberation Sans, sans-serif" font-size="29.0" fill="#000000">
<path transform="translate(68.64,459.90) scale(0.014160,-0.014160)" d="M763 0H583V1147Q518 1085 412.5 1023T223 930V1104Q374 1175 487 1276T647 1472H763Z" fill="#000"/>
<text x="84.77" y="459.90">0</text>
<text x="66.80" y="459.90" text-anchor="end">−</text>
<text x="84.77" y="387.77">5</text>
<text x="83.40" y="387.77" text-anchor="end">−</text>
<text x="84.77" y="315.63">0</text>
<text x="84.77" y="243.50">5</text>
<path transform="translate(68.64,171.37) scale(0.014160,-0.014160)" d="M763 0H583V1147Q518 1085 412.5 1023T223 930V1104Q374 1175 487 1276T647 1472H763Z" fill="#000"/>
<text x="84.77" y="171.37">0</text>
<path transform="translate(68.64,99.23) scale(0.014160,-0.014160)" d="M763 0H583V1147Q518 1085 412.5 1023T223 930V1104Q374 1175 487 1276T647 1472H763Z" fill="#000"/>
<text x="84.77" y="99.23">5</text>
<text x="68.64" y="27.10">2</text>
<text x="84.77" y="27.10">0</text>
<text x="88.39" y="484.40">0</text>
<text x="104.52" y="484.40">.</text>
<text x="112.58" y="484.40">0</text>
<text x="263.51" y="484.40">0</text>
<text x="279.63" y="484.40">.</text>
<text x="287.69" y="484.40">5</text>
<path transform="translate(438.62,484.40) scale(0.014160,-0.014160)" d="M763 0H583V1147Q518 1085 412.5 1023T223 930V1104Q374 1175 487 1276T647 1472H763Z" fill="#000"/>
<text x="454.75" y="484.40">.</text>
<text x="462.80" y="484.40">0</text>
<path transform="translate(613.73,484.40) scale(0.014160,-0.014160)" d="M763 0H583V1147Q518 1085 412.5 1023T223 930V1104Q374 1175 487 1276T647 1472H763Z" fill="#000"/>
<text x="629.86" y="484.40">.</text>
<text x="637.92" y="484.40">5</text>
<text x="788.84" y="484.40">2</text>
<text x="804.97" y="484.40">.</text>
<text x="813.03" y="484.40">0</text>
</g>
<g font-family="Liberation Sans, sans-serif" fill="#000000">
<text x="416.4" y="531.8" font-size="29"><tspan font-style="italic">n</tspan><tspan font-style="italic" font-size="20.3" dy="4.9" dx="0.2">n</tspan><tspan dy="-4.3" dx="3.2">/</tspan><tspan font-style="italic" dy="-0.6" dx="0.5">n</tspan><tspan font-size="21.3" dy="4.6" dx="-0.6">sat</tspan></text>
<text transform="translate(27.2,304.0) rotate(-90)" x="0" y="0" font-size="29"><tspan font-style="italic">E</tspan><tspan font-size="20.8" dy="5.4" dx="-0.3">NM</tspan><tspan dy="-5.4" dx="0.3"> (Me</tspan><tspan dx="0.7">V</tspan><tspan dx="1.0">)</tspan></text>
</g>
<text font-family="Liberation Serif, serif" x="533.80" y="167.70" font-size="28.8" fill="#0000aa" stroke="#0000aa" stroke-width="0.25"><tspan font-style="italic">c</tspan><tspan font-size="20" dy="4.30" dx="-1.20">3</tspan></text>
<text font-family="Liberation Serif, serif" x="534.20" y="283.20" font-size="28.8" fill="#0000aa" stroke="#0000aa" stroke-width="0.25"><tspan font-style="italic">c</tspan><tspan font-size="20" dy="3.60" dx="-0.60">1</tspan></text>
<g font-family="Liberation Serif, serif" font-size="29" fill="#aa0000" stroke="#aa0000" stroke-width="0.3">
<text x="332.10" y="376.80" font-size="26.6">|</text>
<text x="338.60" y="377.30" font-style="italic">F</text>
<text x="356.00" y="381.90" font-size="20.5">2</text>
<text x="370.20" y="376.80" font-size="26.6">|</text>
<path d="M390.70,364.30 L378.10,369.30 L390.70,373.90 M377.10,376.50 L390.90,376.50" fill="none" stroke="#aa0000" stroke-width="1.55" stroke-linejoin="miter" stroke-miterlimit="10"/>
<text x="393.00" y="377.50" font-size="29.6">1</text>
<path d="M407.70,381.80 L413.70,359.10" stroke="#aa0000" stroke-width="1.5" fill="none"/>
<text x="415.40" y="376.60" font-size="25.2">(</text>
<text x="422.90" y="377.50" font-size="29.6">5</text>
<path d="M449.70,359.94 L449.65,359.36 L449.53,358.80 L449.32,358.30 L449.03,357.87 L448.65,357.52 L448.20,357.27 L447.70,357.13 L447.17,357.13 L446.64,357.25 L446.13,357.49 L445.65,357.85 L445.22,358.31 L444.86,358.86 L444.55,359.45 L444.28,360.06 L444.03,360.71 L443.80,361.40 L443.58,362.14 L443.37,362.93 L443.17,363.76 L442.97,364.64 L442.78,365.58 L442.58,366.56 L442.38,367.61 L442.16,368.71 L441.94,369.88 L441.72,371.06 L441.50,372.19 L441.30,373.27 L441.10,374.31 L440.90,375.29 L440.70,376.22 L440.50,377.09 L440.30,377.91 L440.08,378.67 L439.86,379.37 L439.62,380.00 L439.37,380.57 L439.11,381.07 L438.92,381.38 L438.68,381.65 L438.40,381.90 L438.10,382.11 L437.77,382.27 L437.43,382.40 L437.09,382.47 L436.76,382.49 L436.45,382.46 L436.16,382.38 L435.89,382.25 L435.65,382.05 L435.42,381.73 L434.58,382.27 L434.83,382.70 L435.19,383.11 L435.61,383.42 L436.09,383.66 L436.60,383.80 L437.14,383.86 L437.69,383.84 L438.24,383.75 L438.78,383.57 L439.31,383.33 L439.81,383.00 L440.28,382.60 L440.69,382.13 L441.09,381.51 L441.46,380.84 L441.79,380.12 L442.10,379.35 L442.38,378.53 L442.65,377.66 L442.89,376.75 L443.13,375.79 L443.36,374.78 L443.59,373.73 L443.81,372.64 L444.03,371.50 L444.26,370.32 L444.48,369.15 L444.68,368.04 L444.87,367.00 L445.05,366.01 L445.22,365.09 L445.38,364.22 L445.53,363.42 L445.69,362.67 L445.85,361.98 L446.01,361.34 L446.18,360.75 L446.36,360.21 L446.54,359.74 L446.72,359.36 L446.91,359.08 L447.10,358.88 L447.28,358.74 L447.45,358.65 L447.61,358.60 L447.78,358.59 L447.95,358.63 L448.14,358.74 L448.32,358.92 L448.49,359.19 L448.63,359.56 L448.70,360.06 Z" fill="#aa0000"/>
<circle cx="449.05" cy="360.10" r="1.25" fill="#aa0000"/>
<circle cx="435.15" cy="381.85" r="1.25" fill="#aa0000"/>
<path d="M439.20,366.10 L447.50,366.10" stroke="#aa0000" stroke-width="1.45" fill="none"/>
<text x="445.80" y="382.30" font-style="italic" font-size="19.5">π</text>
<text x="458.80" y="365.70" font-size="20">4</text>
<text x="471.10" y="376.60" font-size="25.2">)</text>
</g>
<g font-family="Liberation Serif, serif" font-size="29" fill="#550055" stroke="#550055" stroke-width="0.3">
<text x="646.20" y="376.50" font-size="26.6">|</text>
<text x="652.40" y="377.00" font-style="italic">D</text>
<text x="672.80" y="381.60" font-size="20.5">2</text>
<text x="685.40" y="376.50" font-size="26.6">|</text>
<path d="M706.40,364.00 L693.80,369.00 L706.40,373.60 M692.80,376.20 L706.60,376.20" fill="none" stroke="#550055" stroke-width="1.55" stroke-linejoin="miter" stroke-miterlimit="10"/>
<text x="708.30" y="377.20" font-size="29.6">1</text>
<path d="M723.90,381.50 L729.90,358.80" stroke="#550055" stroke-width="1.5" fill="none"/>
<text x="731.90" y="376.30" font-size="25.2">(</text>
<text x="739.50" y="377.20" font-size="29.6">5</text>
<path d="M767.50,359.64 L767.45,359.06 L767.33,358.50 L767.12,358.00 L766.83,357.57 L766.45,357.22 L766.00,356.97 L765.50,356.83 L764.97,356.83 L764.44,356.95 L763.93,357.19 L763.45,357.55 L763.02,358.01 L762.66,358.56 L762.35,359.15 L762.08,359.76 L761.83,360.41 L761.60,361.10 L761.38,361.84 L761.17,362.63 L760.97,363.46 L760.77,364.34 L760.58,365.28 L760.38,366.26 L760.18,367.31 L759.96,368.41 L759.74,369.58 L759.52,370.76 L759.30,371.89 L759.10,372.97 L758.90,374.01 L758.70,374.99 L758.50,375.92 L758.30,376.79 L758.10,377.61 L757.88,378.37 L757.66,379.07 L757.42,379.70 L757.17,380.27 L756.91,380.77 L756.72,381.08 L756.48,381.35 L756.20,381.60 L755.90,381.81 L755.57,381.97 L755.23,382.10 L754.89,382.17 L754.56,382.19 L754.25,382.16 L753.96,382.08 L753.69,381.95 L753.45,381.75 L753.22,381.43 L752.38,381.97 L752.63,382.40 L752.99,382.81 L753.41,383.12 L753.89,383.36 L754.40,383.50 L754.94,383.56 L755.49,383.54 L756.04,383.45 L756.58,383.27 L757.11,383.03 L757.61,382.70 L758.08,382.30 L758.49,381.83 L758.89,381.21 L759.26,380.54 L759.59,379.82 L759.90,379.05 L760.18,378.23 L760.45,377.36 L760.69,376.45 L760.93,375.49 L761.16,374.48 L761.39,373.43 L761.61,372.34 L761.83,371.20 L762.06,370.02 L762.28,368.85 L762.48,367.74 L762.67,366.70 L762.85,365.71 L763.02,364.79 L763.18,363.92 L763.33,363.12 L763.49,362.37 L763.65,361.68 L763.81,361.04 L763.98,360.45 L764.16,359.91 L764.34,359.44 L764.52,359.06 L764.71,358.78 L764.90,358.58 L765.08,358.44 L765.25,358.35 L765.41,358.30 L765.58,358.29 L765.75,358.33 L765.94,358.44 L766.12,358.62 L766.29,358.89 L766.43,359.26 L766.50,359.76 Z" fill="#550055"/>
<circle cx="766.85" cy="359.80" r="1.25" fill="#550055"/>
<circle cx="752.95" cy="381.55" r="1.25" fill="#550055"/>
<path d="M757.00,365.80 L765.30,365.80" stroke="#550055" stroke-width="1.45" fill="none"/>
<text x="763.60" y="382.00" font-style="italic" font-size="19.5">π</text>
<text x="775.60" y="365.40" font-size="20">4</text>
<text x="787.50" y="376.30" font-size="25.2">)</text>
</g>
</g>
</svg>
</div>
</body></html>
